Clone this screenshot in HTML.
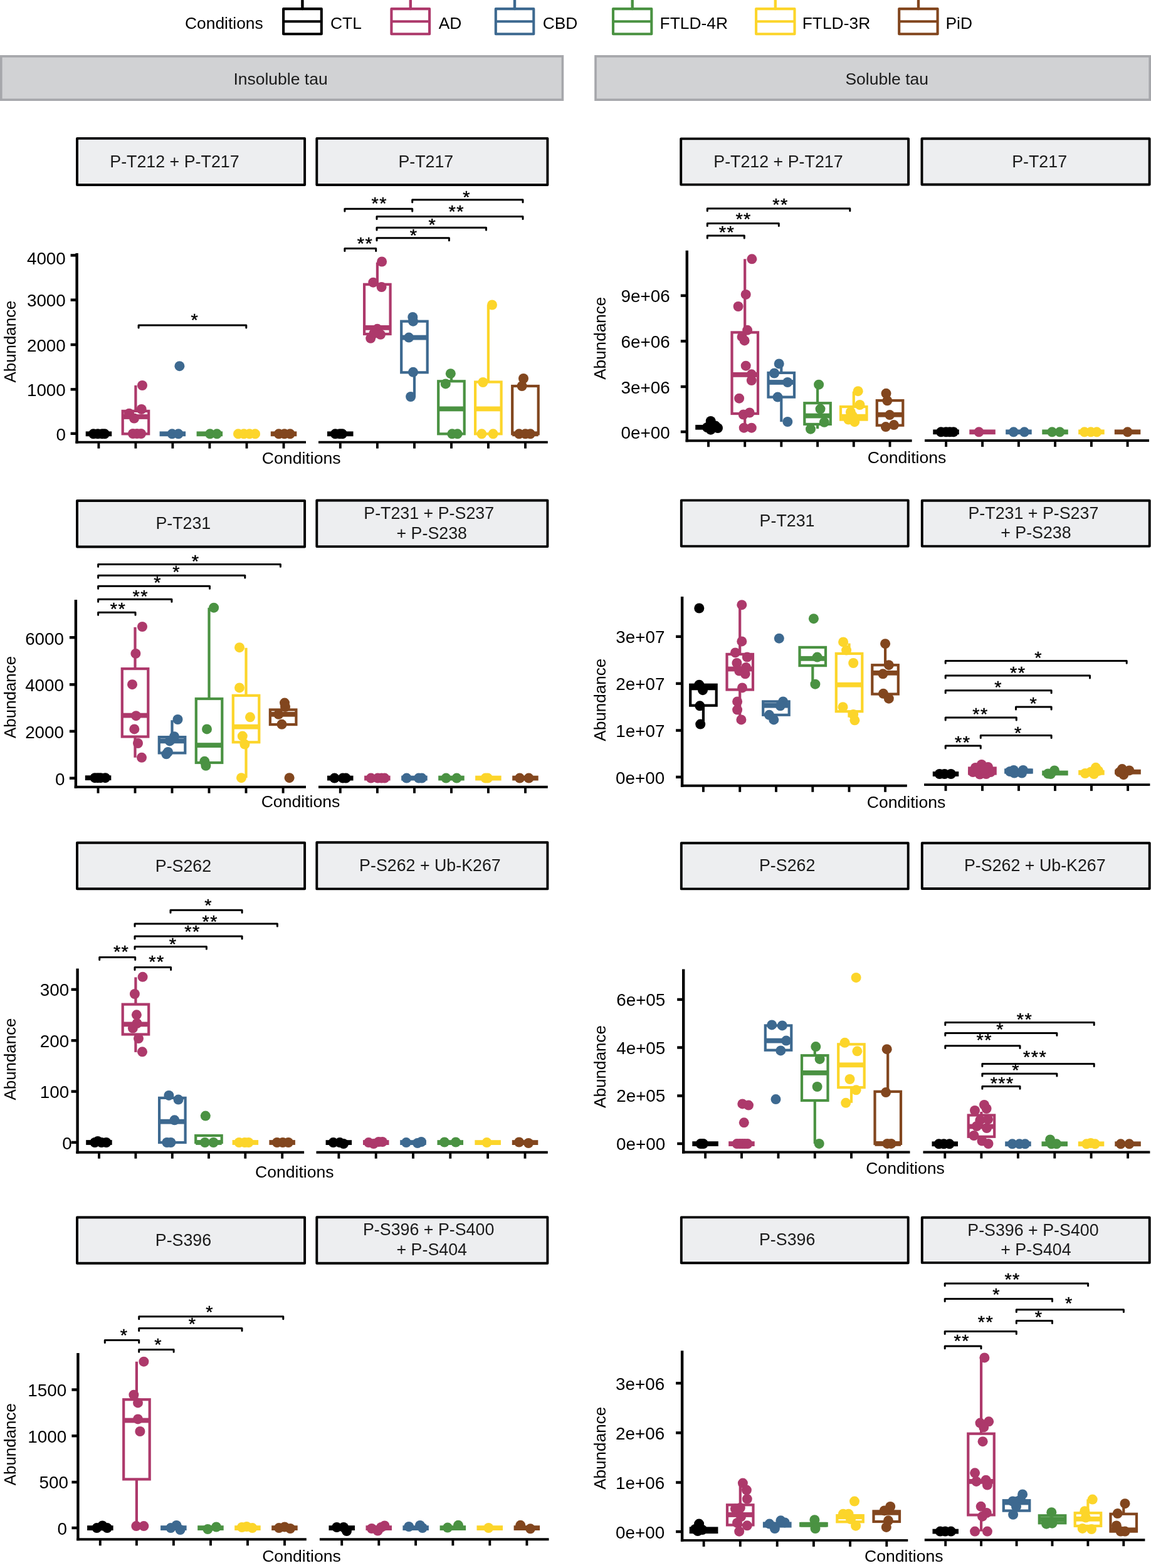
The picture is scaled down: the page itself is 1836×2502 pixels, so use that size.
<!DOCTYPE html>
<html><head><meta charset="utf-8"><title>Tau abundance boxplots</title>
<style>
html,body{margin:0;padding:0;background:#fff;}
body{width:1836px;height:2502px;overflow:hidden;}
svg{display:block;font-family:'Liberation Sans', Arial, Helvetica, sans-serif;}
</style></head>
<body>
<svg width="1836" height="2502" viewBox="0 0 1836 2502" stroke-linecap="butt">
<rect width="1836" height="2502" fill="#fff"/>
<g id="legend">
<text x="295.0" y="45.8" font-size="26.4" fill="#000">Conditions</text>
<rect x="452.1" y="14.1" width="60.7" height="40.2" fill="none" stroke="#000000" stroke-width="4.1" stroke-linejoin="round"/>
<line x1="452.1" y1="34.3" x2="512.8" y2="34.3" stroke="#000000" stroke-width="4.1"/>
<line x1="482.4" y1="1" x2="482.4" y2="14" stroke="#000000" stroke-width="4.4" stroke-linecap="round"/>
<text x="527" y="45.8" font-size="26.4" fill="#000">CTL</text>
<rect x="624.4" y="14.1" width="60.7" height="40.2" fill="none" stroke="#ad396b" stroke-width="4.1" stroke-linejoin="round"/>
<line x1="624.4" y1="34.3" x2="685.1" y2="34.3" stroke="#ad396b" stroke-width="4.1"/>
<line x1="654.8" y1="1" x2="654.8" y2="14" stroke="#ad396b" stroke-width="4.4" stroke-linecap="round"/>
<text x="699.7" y="45.8" font-size="26.4" fill="#000">AD</text>
<rect x="790.8" y="14.1" width="60.5" height="40.2" fill="none" stroke="#3d6990" stroke-width="4.1" stroke-linejoin="round"/>
<line x1="790.8" y1="34.3" x2="851.2" y2="34.3" stroke="#3d6990" stroke-width="4.1"/>
<line x1="821" y1="1" x2="821" y2="14" stroke="#3d6990" stroke-width="4.4" stroke-linecap="round"/>
<text x="865.7" y="45.8" font-size="26.4" fill="#000">CBD</text>
<rect x="978" y="14.1" width="61.3" height="40.2" fill="none" stroke="#4a9242" stroke-width="4.1" stroke-linejoin="round"/>
<line x1="978" y1="34.3" x2="1039.3" y2="34.3" stroke="#4a9242" stroke-width="4.1"/>
<line x1="1008.7" y1="1" x2="1008.7" y2="14" stroke="#4a9242" stroke-width="4.4" stroke-linecap="round"/>
<text x="1052.6" y="45.8" font-size="26.4" fill="#000">FTLD-4R</text>
<rect x="1206.1" y="14.1" width="61.4" height="40.2" fill="none" stroke="#fcd52a" stroke-width="4.1" stroke-linejoin="round"/>
<line x1="1206.1" y1="34.3" x2="1267.5" y2="34.3" stroke="#fcd52a" stroke-width="4.1"/>
<line x1="1236.8" y1="1" x2="1236.8" y2="14" stroke="#fcd52a" stroke-width="4.4" stroke-linecap="round"/>
<text x="1279.7" y="45.8" font-size="26.4" fill="#000">FTLD-3R</text>
<rect x="1434.2" y="14.1" width="61.4" height="40.2" fill="none" stroke="#82461e" stroke-width="4.1" stroke-linejoin="round"/>
<line x1="1434.2" y1="34.3" x2="1495.7" y2="34.3" stroke="#82461e" stroke-width="4.1"/>
<line x1="1465" y1="1" x2="1465" y2="14" stroke="#82461e" stroke-width="4.4" stroke-linecap="round"/>
<text x="1508.5" y="45.8" font-size="26.4" fill="#000">PiD</text>
</g>
<rect x="1.8" y="89.8" width="895.6" height="69.4" fill="#d1d2d4" stroke="#a6a7ab" stroke-width="3.6"/>
<text x="372.4" y="134.7" font-size="26.5" fill="#1a1a1a">Insoluble tau</text>
<rect x="950" y="89.8" width="884.2" height="69.4" fill="#d1d2d4" stroke="#a6a7ab" stroke-width="3.6"/>
<text x="1348.4" y="134.7" font-size="26.5" fill="#1a1a1a">Soluble tau</text>
<g id="L1A">
<rect x="123" y="220.9" width="363.1" height="74.1" fill="#edeef0" stroke="#000" stroke-width="3.9" stroke-linejoin="round"/>
<text x="175.3" y="266.6" font-size="26.8" fill="#1a1a1a">P-T212 + P-T217</text>
<line x1="120.4" y1="705.6" x2="488" y2="705.6" stroke="#000" stroke-width="3.9"/>
<line x1="157.4" y1="705.6" x2="157.4" y2="715.6" stroke="#000" stroke-width="3.9"/>
<line x1="216.4" y1="705.6" x2="216.4" y2="715.6" stroke="#000" stroke-width="3.9"/>
<line x1="275.4" y1="705.6" x2="275.4" y2="715.6" stroke="#000" stroke-width="3.9"/>
<line x1="334.4" y1="705.6" x2="334.4" y2="715.6" stroke="#000" stroke-width="3.9"/>
<line x1="393.5" y1="705.6" x2="393.5" y2="715.6" stroke="#000" stroke-width="3.9"/>
<line x1="452.5" y1="705.6" x2="452.5" y2="715.6" stroke="#000" stroke-width="3.9"/>
<line x1="122.6" y1="403.9" x2="122.6" y2="707.6" stroke="#000" stroke-width="4.4"/>
<line x1="112.6" y1="407.4" x2="122.6" y2="407.4" stroke="#000" stroke-width="4.4"/>
<text x="104.8" y="421.8" font-size="27.8" fill="#000" text-anchor="end">4000</text>
<line x1="112.6" y1="478.6" x2="122.6" y2="478.6" stroke="#000" stroke-width="4.4"/>
<text x="104.8" y="489.3" font-size="27.8" fill="#000" text-anchor="end">3000</text>
<line x1="112.6" y1="550" x2="122.6" y2="550" stroke="#000" stroke-width="4.4"/>
<text x="104.8" y="560.5" font-size="27.8" fill="#000" text-anchor="end">2000</text>
<line x1="112.6" y1="621.3" x2="122.6" y2="621.3" stroke="#000" stroke-width="4.4"/>
<text x="104.8" y="631.5" font-size="27.8" fill="#000" text-anchor="end">1000</text>
<line x1="112.6" y1="691.8" x2="122.6" y2="691.8" stroke="#000" stroke-width="4.4"/>
<text x="104.9" y="702.8" font-size="27.8" fill="#000" text-anchor="end">0</text>
<rect x="136.7" y="688.4" width="41.5" height="7.8" fill="#000000"/>
<line x1="216.4" y1="614.9" x2="216.4" y2="655.9" stroke="#ad396b" stroke-width="4.2"/>
<rect x="195.7" y="655.9" width="41.5" height="36.4" fill="#fff" stroke="#ad396b" stroke-width="4.2"/>
<rect x="195.7" y="661.1" width="41.5" height="7.8" fill="#ad396b"/>
<rect x="254.6" y="688.4" width="41.5" height="7.8" fill="#3d6990"/>
<rect x="313.6" y="688.4" width="41.5" height="7.8" fill="#4a9242"/>
<rect x="372.8" y="688.4" width="41.5" height="7.8" fill="#fcd52a"/>
<rect x="431.8" y="688.4" width="41.5" height="7.8" fill="#82461e"/>
<circle cx="149" cy="692.3" r="8.0" fill="#000000"/>
<circle cx="156" cy="692.3" r="8.0" fill="#000000"/>
<circle cx="163" cy="692.3" r="8.0" fill="#000000"/>
<circle cx="167" cy="692.3" r="8.0" fill="#000000"/>
<circle cx="227" cy="615" r="8.0" fill="#ad396b"/>
<circle cx="225.7" cy="653" r="8.0" fill="#ad396b"/>
<circle cx="206" cy="659.7" r="8.0" fill="#ad396b"/>
<circle cx="214" cy="667.5" r="8.0" fill="#ad396b"/>
<circle cx="212" cy="692" r="8.0" fill="#ad396b"/>
<circle cx="218.5" cy="692" r="8.0" fill="#ad396b"/>
<circle cx="225" cy="692" r="8.0" fill="#ad396b"/>
<circle cx="274.5" cy="692.3" r="8.0" fill="#3d6990"/>
<circle cx="284.6" cy="692.3" r="8.0" fill="#3d6990"/>
<circle cx="286.4" cy="584.2" r="8.0" fill="#3d6990"/>
<circle cx="335" cy="692.3" r="8.0" fill="#4a9242"/>
<circle cx="346" cy="692.3" r="8.0" fill="#4a9242"/>
<circle cx="380" cy="692.3" r="8.0" fill="#fcd52a"/>
<circle cx="389" cy="692.3" r="8.0" fill="#fcd52a"/>
<circle cx="398" cy="692.3" r="8.0" fill="#fcd52a"/>
<circle cx="407" cy="692.3" r="8.0" fill="#fcd52a"/>
<circle cx="444.7" cy="692.3" r="8.0" fill="#82461e"/>
<circle cx="453.7" cy="692.3" r="8.0" fill="#82461e"/>
<circle cx="462.7" cy="692.3" r="8.0" fill="#82461e"/>
<path d="M221.1 522.9V519H392.8V522.9" fill="none" stroke="#000" stroke-width="3.0" stroke-linecap="round" stroke-linejoin="round"/>
<text transform="translate(310.8 519.8) scale(1 0.95)" font-size="29" letter-spacing="1.42" fill="#000" stroke="#000" stroke-width="0.45" text-anchor="middle">*</text>
</g>
<g id="L1B">
<rect x="505.3" y="220.9" width="368.1" height="74.1" fill="#edeef0" stroke="#000" stroke-width="3.9" stroke-linejoin="round"/>
<text x="635.4" y="266.6" font-size="26.8" fill="#1a1a1a">P-T217</text>
<line x1="508" y1="705.6" x2="873.8" y2="705.6" stroke="#000" stroke-width="3.9"/>
<line x1="542.8" y1="705.6" x2="542.8" y2="715.6" stroke="#000" stroke-width="3.9"/>
<line x1="601.9" y1="705.6" x2="601.9" y2="715.6" stroke="#000" stroke-width="3.9"/>
<line x1="661" y1="705.6" x2="661" y2="715.6" stroke="#000" stroke-width="3.9"/>
<line x1="720" y1="705.6" x2="720" y2="715.6" stroke="#000" stroke-width="3.9"/>
<line x1="778.9" y1="705.6" x2="778.9" y2="715.6" stroke="#000" stroke-width="3.9"/>
<line x1="838" y1="705.6" x2="838" y2="715.6" stroke="#000" stroke-width="3.9"/>
<rect x="522" y="688.4" width="41.5" height="7.8" fill="#000000"/>
<line x1="601.9" y1="418.7" x2="601.9" y2="453.8" stroke="#ad396b" stroke-width="4.2"/>
<rect x="581.1" y="453.8" width="41.5" height="79.2" fill="#fff" stroke="#ad396b" stroke-width="4.2"/>
<rect x="581.1" y="519" width="41.5" height="7.8" fill="#ad396b"/>
<line x1="661" y1="594.3" x2="661" y2="633" stroke="#3d6990" stroke-width="4.2"/>
<rect x="640.2" y="512.7" width="41.5" height="81.6" fill="#fff" stroke="#3d6990" stroke-width="4.2"/>
<rect x="640.2" y="534.7" width="41.5" height="7.8" fill="#3d6990"/>
<line x1="720" y1="598" x2="720" y2="608.3" stroke="#4a9242" stroke-width="4.2"/>
<rect x="699.2" y="608.3" width="41.5" height="84" fill="#fff" stroke="#4a9242" stroke-width="4.2"/>
<rect x="699.2" y="648.5" width="41.5" height="7.8" fill="#4a9242"/>
<line x1="778.9" y1="486.5" x2="778.9" y2="609.5" stroke="#fcd52a" stroke-width="4.2"/>
<rect x="758.1" y="609.5" width="41.5" height="82.8" fill="#fff" stroke="#fcd52a" stroke-width="4.2"/>
<rect x="758.1" y="648.5" width="41.5" height="7.8" fill="#fcd52a"/>
<rect x="817.2" y="616" width="41.5" height="76.3" fill="#fff" stroke="#82461e" stroke-width="4.2"/>
<rect x="817.2" y="688.4" width="41.5" height="7.8" fill="#82461e"/>
<circle cx="534.8" cy="692.3" r="8.0" fill="#000000"/>
<circle cx="542" cy="692.3" r="8.0" fill="#000000"/>
<circle cx="546" cy="692.3" r="8.0" fill="#000000"/>
<circle cx="609.1" cy="417.5" r="8.0" fill="#ad396b"/>
<circle cx="595.3" cy="450.7" r="8.0" fill="#ad396b"/>
<circle cx="608.6" cy="458" r="8.0" fill="#ad396b"/>
<circle cx="601.9" cy="524.8" r="8.0" fill="#ad396b"/>
<circle cx="591.2" cy="539.8" r="8.0" fill="#ad396b"/>
<circle cx="607" cy="533.8" r="8.0" fill="#ad396b"/>
<circle cx="596.5" cy="532" r="8.0" fill="#ad396b"/>
<circle cx="658.3" cy="505.9" r="8.0" fill="#3d6990"/>
<circle cx="659" cy="512.7" r="8.0" fill="#3d6990"/>
<circle cx="652.2" cy="538.6" r="8.0" fill="#3d6990"/>
<circle cx="659" cy="593.8" r="8.0" fill="#3d6990"/>
<circle cx="655.1" cy="633" r="8.0" fill="#3d6990"/>
<circle cx="718.8" cy="596.2" r="8.0" fill="#4a9242"/>
<circle cx="710.8" cy="612.4" r="8.0" fill="#4a9242"/>
<circle cx="721.2" cy="692.3" r="8.0" fill="#4a9242"/>
<circle cx="729.7" cy="692.3" r="8.0" fill="#4a9242"/>
<circle cx="785" cy="486.5" r="8.0" fill="#fcd52a"/>
<circle cx="770.4" cy="610" r="8.0" fill="#fcd52a"/>
<circle cx="768.4" cy="692.3" r="8.0" fill="#fcd52a"/>
<circle cx="786.6" cy="692.3" r="8.0" fill="#fcd52a"/>
<circle cx="835" cy="604" r="8.0" fill="#82461e"/>
<circle cx="832.6" cy="616" r="8.0" fill="#82461e"/>
<circle cx="828" cy="692.3" r="8.0" fill="#82461e"/>
<circle cx="838" cy="692.3" r="8.0" fill="#82461e"/>
<circle cx="846" cy="692.3" r="8.0" fill="#82461e"/>
<path d="M657.7 322.7V318.8H834V322.7" fill="none" stroke="#000" stroke-width="3.0" stroke-linecap="round" stroke-linejoin="round"/>
<text transform="translate(744.5 323.8) scale(1 0.95)" font-size="29" letter-spacing="1.42" fill="#000" stroke="#000" stroke-width="0.45" text-anchor="middle">*</text>
<path d="M549.9 337.1V333.2H657.7V337.1" fill="none" stroke="#000" stroke-width="3.0" stroke-linecap="round" stroke-linejoin="round"/>
<text transform="translate(605.3 334.1) scale(1 0.95)" font-size="29" letter-spacing="1.42" fill="#000" stroke="#000" stroke-width="0.45" text-anchor="middle">**</text>
<path d="M601 349.5V345.6H834V349.5" fill="none" stroke="#000" stroke-width="3.0" stroke-linecap="round" stroke-linejoin="round"/>
<text transform="translate(728.2 347.3) scale(1 0.95)" font-size="29" letter-spacing="1.42" fill="#000" stroke="#000" stroke-width="0.45" text-anchor="middle">**</text>
<path d="M601 367.1V363.2H775.5V367.1" fill="none" stroke="#000" stroke-width="3.0" stroke-linecap="round" stroke-linejoin="round"/>
<text transform="translate(689.9 367.9) scale(1 0.95)" font-size="29" letter-spacing="1.42" fill="#000" stroke="#000" stroke-width="0.45" text-anchor="middle">*</text>
<path d="M601 383.7V379.8H716.4V383.7" fill="none" stroke="#000" stroke-width="3.0" stroke-linecap="round" stroke-linejoin="round"/>
<text transform="translate(660.2 385) scale(1 0.95)" font-size="29" letter-spacing="1.42" fill="#000" stroke="#000" stroke-width="0.45" text-anchor="middle">*</text>
<path d="M549.9 400.5V396.6H599.7V400.5" fill="none" stroke="#000" stroke-width="3.0" stroke-linecap="round" stroke-linejoin="round"/>
<text transform="translate(582.5 397.6) scale(1 0.95)" font-size="29" letter-spacing="1.42" fill="#000" stroke="#000" stroke-width="0.45" text-anchor="middle">**</text>
</g>
<g id="L2A">
<rect x="123" y="799" width="363.1" height="73.5" fill="#edeef0" stroke="#000" stroke-width="3.9" stroke-linejoin="round"/>
<text x="248.4" y="844.2" font-size="26.8" fill="#1a1a1a">P-T231</text>
<line x1="118.7" y1="1255.7" x2="488" y2="1255.7" stroke="#000" stroke-width="3.9"/>
<line x1="156.5" y1="1255.7" x2="156.5" y2="1265.7" stroke="#000" stroke-width="3.9"/>
<line x1="215.5" y1="1255.7" x2="215.5" y2="1265.7" stroke="#000" stroke-width="3.9"/>
<line x1="274.5" y1="1255.7" x2="274.5" y2="1265.7" stroke="#000" stroke-width="3.9"/>
<line x1="333.5" y1="1255.7" x2="333.5" y2="1265.7" stroke="#000" stroke-width="3.9"/>
<line x1="392.5" y1="1255.7" x2="392.5" y2="1265.7" stroke="#000" stroke-width="3.9"/>
<line x1="451.6" y1="1255.7" x2="451.6" y2="1265.7" stroke="#000" stroke-width="3.9"/>
<line x1="120.9" y1="956.9" x2="120.9" y2="1257.7" stroke="#000" stroke-width="4.4"/>
<line x1="110.9" y1="1017.2" x2="120.9" y2="1017.2" stroke="#000" stroke-width="4.4"/>
<text x="102" y="1028.5" font-size="27.8" fill="#000" text-anchor="end">6000</text>
<line x1="110.9" y1="1092.3" x2="120.9" y2="1092.3" stroke="#000" stroke-width="4.4"/>
<text x="102" y="1102.9" font-size="27.8" fill="#000" text-anchor="end">4000</text>
<line x1="110.9" y1="1166.9" x2="120.9" y2="1166.9" stroke="#000" stroke-width="4.4"/>
<text x="102" y="1177.5" font-size="27.8" fill="#000" text-anchor="end">2000</text>
<line x1="110.9" y1="1241.7" x2="120.9" y2="1241.7" stroke="#000" stroke-width="4.4"/>
<text x="103.4" y="1253" font-size="27.8" fill="#000" text-anchor="end">0</text>
<rect x="135.8" y="1237.3" width="41.5" height="7.8" fill="#000000"/>
<line x1="215.5" y1="1000.8" x2="215.5" y2="1067.1" stroke="#ad396b" stroke-width="4.2"/>
<line x1="215.5" y1="1175.5" x2="215.5" y2="1208.8" stroke="#ad396b" stroke-width="4.2"/>
<rect x="194.8" y="1067.1" width="41.5" height="108.4" fill="#fff" stroke="#ad396b" stroke-width="4.2"/>
<rect x="194.8" y="1137.7" width="41.5" height="7.8" fill="#ad396b"/>
<line x1="274.5" y1="1149.2" x2="274.5" y2="1176.1" stroke="#3d6990" stroke-width="4.2"/>
<rect x="253.8" y="1176.1" width="41.5" height="25.4" fill="#fff" stroke="#3d6990" stroke-width="4.2"/>
<rect x="253.8" y="1178.5" width="41.5" height="7.8" fill="#3d6990"/>
<line x1="333.5" y1="969.7" x2="333.5" y2="1115" stroke="#4a9242" stroke-width="4.2"/>
<rect x="312.8" y="1115" width="41.5" height="102" fill="#fff" stroke="#4a9242" stroke-width="4.2"/>
<rect x="312.8" y="1185.2" width="41.5" height="7.8" fill="#4a9242"/>
<line x1="392.5" y1="1033.8" x2="392.5" y2="1109.8" stroke="#fcd52a" stroke-width="4.2"/>
<line x1="392.5" y1="1184.3" x2="392.5" y2="1241.2" stroke="#fcd52a" stroke-width="4.2"/>
<rect x="371.8" y="1109.8" width="41.5" height="74.5" fill="#fff" stroke="#fcd52a" stroke-width="4.2"/>
<rect x="371.8" y="1155.8" width="41.5" height="7.8" fill="#fcd52a"/>
<rect x="430.9" y="1132.5" width="41.5" height="23.6" fill="#fff" stroke="#82461e" stroke-width="4.2"/>
<rect x="430.9" y="1135.9" width="41.5" height="7.8" fill="#82461e"/>
<circle cx="151.3" cy="1241.2" r="8.0" fill="#000000"/>
<circle cx="156" cy="1241.2" r="8.0" fill="#000000"/>
<circle cx="160.4" cy="1241.2" r="8.0" fill="#000000"/>
<circle cx="168" cy="1241.2" r="8.0" fill="#000000"/>
<circle cx="227" cy="1000" r="8.0" fill="#ad396b"/>
<circle cx="216.4" cy="1042.9" r="8.0" fill="#ad396b"/>
<circle cx="211" cy="1092.2" r="8.0" fill="#ad396b"/>
<circle cx="217" cy="1142.2" r="8.0" fill="#ad396b"/>
<circle cx="214.3" cy="1163.4" r="8.0" fill="#ad396b"/>
<circle cx="220" cy="1186" r="8.0" fill="#ad396b"/>
<circle cx="226" cy="1208.8" r="8.0" fill="#ad396b"/>
<circle cx="283.5" cy="1148" r="8.0" fill="#3d6990"/>
<circle cx="278" cy="1175.2" r="8.0" fill="#3d6990"/>
<circle cx="270.8" cy="1182.4" r="8.0" fill="#3d6990"/>
<circle cx="265.3" cy="1203.3" r="8.0" fill="#3d6990"/>
<circle cx="268" cy="1200" r="8.0" fill="#3d6990"/>
<circle cx="341.1" cy="969.7" r="8.0" fill="#4a9242"/>
<circle cx="330" cy="1163.4" r="8.0" fill="#4a9242"/>
<circle cx="326.3" cy="1214.8" r="8.0" fill="#4a9242"/>
<circle cx="328.4" cy="1221.8" r="8.0" fill="#4a9242"/>
<circle cx="382" cy="1033.2" r="8.0" fill="#fcd52a"/>
<circle cx="382" cy="1097.4" r="8.0" fill="#fcd52a"/>
<circle cx="399" cy="1144.3" r="8.0" fill="#fcd52a"/>
<circle cx="386.8" cy="1174.6" r="8.0" fill="#fcd52a"/>
<circle cx="390.4" cy="1187.6" r="8.0" fill="#fcd52a"/>
<circle cx="385" cy="1241.2" r="8.0" fill="#fcd52a"/>
<circle cx="454" cy="1121.6" r="8.0" fill="#82461e"/>
<circle cx="455" cy="1128" r="8.0" fill="#82461e"/>
<circle cx="444.3" cy="1139.8" r="8.0" fill="#82461e"/>
<circle cx="449.5" cy="1155.8" r="8.0" fill="#82461e"/>
<circle cx="461.6" cy="1241.2" r="8.0" fill="#82461e"/>
<path d="M156.6 904.3V900.4H447.4V904.3" fill="none" stroke="#000" stroke-width="3.0" stroke-linecap="round" stroke-linejoin="round"/>
<text transform="translate(312.1 905.1) scale(1 0.95)" font-size="29" letter-spacing="1.42" fill="#000" stroke="#000" stroke-width="0.45" text-anchor="middle">*</text>
<path d="M156.6 922.1V918.2H390.8V922.1" fill="none" stroke="#000" stroke-width="3.0" stroke-linecap="round" stroke-linejoin="round"/>
<text transform="translate(281.5 922.1) scale(1 0.95)" font-size="29" letter-spacing="1.42" fill="#000" stroke="#000" stroke-width="0.45" text-anchor="middle">*</text>
<path d="M156.6 939.2V935.3H334.5V939.2" fill="none" stroke="#000" stroke-width="3.0" stroke-linecap="round" stroke-linejoin="round"/>
<text transform="translate(251.7 939.4) scale(1 0.95)" font-size="29" letter-spacing="1.42" fill="#000" stroke="#000" stroke-width="0.45" text-anchor="middle">*</text>
<path d="M156.6 960.2V956.3H273.9V960.2" fill="none" stroke="#000" stroke-width="3.0" stroke-linecap="round" stroke-linejoin="round"/>
<text transform="translate(224.3 960.6) scale(1 0.95)" font-size="29" letter-spacing="1.42" fill="#000" stroke="#000" stroke-width="0.45" text-anchor="middle">**</text>
<path d="M156.6 981.2V977.3H216V981.2" fill="none" stroke="#000" stroke-width="3.0" stroke-linecap="round" stroke-linejoin="round"/>
<text transform="translate(188.4 981.3) scale(1 0.95)" font-size="29" letter-spacing="1.42" fill="#000" stroke="#000" stroke-width="0.45" text-anchor="middle">**</text>
</g>
<g id="L2B">
<rect x="505.3" y="798.5" width="368.1" height="73.6" fill="#edeef0" stroke="#000" stroke-width="3.9" stroke-linejoin="round"/>
<text x="580.3" y="827.8" font-size="26.8" fill="#1a1a1a">P-T231 + P-S237</text>
<text x="632.5" y="859.6" font-size="26.8" fill="#1a1a1a">+ P-S238</text>
<line x1="508" y1="1255.7" x2="873.8" y2="1255.7" stroke="#000" stroke-width="3.9"/>
<line x1="542.8" y1="1255.7" x2="542.8" y2="1265.7" stroke="#000" stroke-width="3.9"/>
<line x1="601.9" y1="1255.7" x2="601.9" y2="1265.7" stroke="#000" stroke-width="3.9"/>
<line x1="661" y1="1255.7" x2="661" y2="1265.7" stroke="#000" stroke-width="3.9"/>
<line x1="720" y1="1255.7" x2="720" y2="1265.7" stroke="#000" stroke-width="3.9"/>
<line x1="778.9" y1="1255.7" x2="778.9" y2="1265.7" stroke="#000" stroke-width="3.9"/>
<line x1="838" y1="1255.7" x2="838" y2="1265.7" stroke="#000" stroke-width="3.9"/>
<rect x="522" y="1237.7" width="41.5" height="7.8" fill="#000000"/>
<rect x="581.1" y="1237.7" width="41.5" height="7.8" fill="#ad396b"/>
<rect x="640.2" y="1237.7" width="41.5" height="7.8" fill="#3d6990"/>
<rect x="699.2" y="1237.7" width="41.5" height="7.8" fill="#4a9242"/>
<rect x="758.1" y="1237.7" width="41.5" height="7.8" fill="#fcd52a"/>
<rect x="817.2" y="1237.7" width="41.5" height="7.8" fill="#82461e"/>
<circle cx="533.6" cy="1241.6" r="8.0" fill="#000000"/>
<circle cx="546.9" cy="1241.6" r="8.0" fill="#000000"/>
<circle cx="551.7" cy="1241.6" r="8.0" fill="#000000"/>
<circle cx="591.7" cy="1241.6" r="8.0" fill="#ad396b"/>
<circle cx="602.6" cy="1241.6" r="8.0" fill="#ad396b"/>
<circle cx="608.6" cy="1241.6" r="8.0" fill="#ad396b"/>
<circle cx="613.5" cy="1241.6" r="8.0" fill="#ad396b"/>
<circle cx="648.6" cy="1241.6" r="8.0" fill="#3d6990"/>
<circle cx="668" cy="1241.6" r="8.0" fill="#3d6990"/>
<circle cx="672.8" cy="1241.6" r="8.0" fill="#3d6990"/>
<circle cx="711.5" cy="1241.6" r="8.0" fill="#4a9242"/>
<circle cx="728.5" cy="1241.6" r="8.0" fill="#4a9242"/>
<circle cx="774.5" cy="1241.6" r="8.0" fill="#fcd52a"/>
<circle cx="778" cy="1241.6" r="8.0" fill="#fcd52a"/>
<circle cx="829" cy="1241.6" r="8.0" fill="#82461e"/>
<circle cx="843.5" cy="1241.6" r="8.0" fill="#82461e"/>
</g>
<g id="L3A">
<rect x="123" y="1344.7" width="363.1" height="73.6" fill="#edeef0" stroke="#000" stroke-width="3.9" stroke-linejoin="round"/>
<text x="247.8" y="1390.5" font-size="26.8" fill="#1a1a1a">P-S262</text>
<line x1="121.4" y1="1838.7" x2="485.1" y2="1838.7" stroke="#000" stroke-width="3.9"/>
<line x1="158" y1="1838.7" x2="158" y2="1848.7" stroke="#000" stroke-width="3.9"/>
<line x1="216.4" y1="1838.7" x2="216.4" y2="1848.7" stroke="#000" stroke-width="3.9"/>
<line x1="274.8" y1="1838.7" x2="274.8" y2="1848.7" stroke="#000" stroke-width="3.9"/>
<line x1="333" y1="1838.7" x2="333" y2="1848.7" stroke="#000" stroke-width="3.9"/>
<line x1="391.3" y1="1838.7" x2="391.3" y2="1848.7" stroke="#000" stroke-width="3.9"/>
<line x1="450.2" y1="1838.7" x2="450.2" y2="1848.7" stroke="#000" stroke-width="3.9"/>
<line x1="123.6" y1="1545.4" x2="123.6" y2="1840.7" stroke="#000" stroke-width="4.4"/>
<line x1="113.6" y1="1578.9" x2="123.6" y2="1578.9" stroke="#000" stroke-width="4.4"/>
<text x="110.2" y="1589.4" font-size="27.8" fill="#000" text-anchor="end">300</text>
<line x1="113.6" y1="1660.3" x2="123.6" y2="1660.3" stroke="#000" stroke-width="4.4"/>
<text x="110.2" y="1670.7" font-size="27.8" fill="#000" text-anchor="end">200</text>
<line x1="113.6" y1="1741.6" x2="123.6" y2="1741.6" stroke="#000" stroke-width="4.4"/>
<text x="110.2" y="1752.2" font-size="27.8" fill="#000" text-anchor="end">100</text>
<line x1="113.6" y1="1822.9" x2="123.6" y2="1822.9" stroke="#000" stroke-width="4.4"/>
<text x="114.8" y="1833.5" font-size="27.8" fill="#000" text-anchor="end">0</text>
<rect x="137.2" y="1819.1" width="41.5" height="7.8" fill="#000000"/>
<line x1="216.4" y1="1559.4" x2="216.4" y2="1602.6" stroke="#ad396b" stroke-width="4.2"/>
<line x1="216.4" y1="1650.5" x2="216.4" y2="1678.9" stroke="#ad396b" stroke-width="4.2"/>
<rect x="195.7" y="1602.6" width="41.5" height="47.9" fill="#fff" stroke="#ad396b" stroke-width="4.2"/>
<rect x="195.7" y="1630.5" width="41.5" height="7.8" fill="#ad396b"/>
<rect x="254.1" y="1751.9" width="41.5" height="71.1" fill="#fff" stroke="#3d6990" stroke-width="4.2"/>
<rect x="254.1" y="1785.8" width="41.5" height="7.8" fill="#3d6990"/>
<rect x="312.2" y="1812" width="41.5" height="11" fill="#fff" stroke="#4a9242" stroke-width="4.2"/>
<rect x="312.2" y="1819.1" width="41.5" height="7.8" fill="#4a9242"/>
<rect x="370.6" y="1819.1" width="41.5" height="7.8" fill="#fcd52a"/>
<rect x="429.4" y="1819.1" width="41.5" height="7.8" fill="#82461e"/>
<circle cx="151.3" cy="1823" r="8.0" fill="#000000"/>
<circle cx="156" cy="1821" r="8.0" fill="#000000"/>
<circle cx="161.9" cy="1823" r="8.0" fill="#000000"/>
<circle cx="169.5" cy="1823" r="8.0" fill="#000000"/>
<circle cx="227.6" cy="1558.8" r="8.0" fill="#ad396b"/>
<circle cx="214.9" cy="1586" r="8.0" fill="#ad396b"/>
<circle cx="217.9" cy="1619.3" r="8.0" fill="#ad396b"/>
<circle cx="218.5" cy="1633" r="8.0" fill="#ad396b"/>
<circle cx="211.9" cy="1640.5" r="8.0" fill="#ad396b"/>
<circle cx="221" cy="1657.1" r="8.0" fill="#ad396b"/>
<circle cx="227" cy="1678.3" r="8.0" fill="#ad396b"/>
<circle cx="269.4" cy="1747.9" r="8.0" fill="#3d6990"/>
<circle cx="284.5" cy="1754.6" r="8.0" fill="#3d6990"/>
<circle cx="278.4" cy="1787.3" r="8.0" fill="#3d6990"/>
<circle cx="266.3" cy="1823" r="8.0" fill="#3d6990"/>
<circle cx="272.4" cy="1823" r="8.0" fill="#3d6990"/>
<circle cx="327.8" cy="1780.6" r="8.0" fill="#4a9242"/>
<circle cx="326.9" cy="1823" r="8.0" fill="#4a9242"/>
<circle cx="340.5" cy="1823" r="8.0" fill="#4a9242"/>
<circle cx="381.4" cy="1823" r="8.0" fill="#fcd52a"/>
<circle cx="390.4" cy="1823" r="8.0" fill="#fcd52a"/>
<circle cx="396.5" cy="1823" r="8.0" fill="#fcd52a"/>
<circle cx="441.9" cy="1823" r="8.0" fill="#82461e"/>
<circle cx="451" cy="1823" r="8.0" fill="#82461e"/>
<circle cx="460" cy="1823" r="8.0" fill="#82461e"/>
<path d="M272 1456.2V1452.3H386.1V1456.2" fill="none" stroke="#000" stroke-width="3.0" stroke-linecap="round" stroke-linejoin="round"/>
<text transform="translate(332.5 1453.9) scale(1 0.95)" font-size="29" letter-spacing="1.42" fill="#000" stroke="#000" stroke-width="0.45" text-anchor="middle">*</text>
<path d="M215 1477.9V1474H442.4V1477.9" fill="none" stroke="#000" stroke-width="3.0" stroke-linecap="round" stroke-linejoin="round"/>
<text transform="translate(335.2 1479.5) scale(1 0.95)" font-size="29" letter-spacing="1.42" fill="#000" stroke="#000" stroke-width="0.45" text-anchor="middle">**</text>
<path d="M215 1497.9V1494H386.1V1497.9" fill="none" stroke="#000" stroke-width="3.0" stroke-linecap="round" stroke-linejoin="round"/>
<text transform="translate(306.9 1495.9) scale(1 0.95)" font-size="29" letter-spacing="1.42" fill="#000" stroke="#000" stroke-width="0.45" text-anchor="middle">**</text>
<path d="M215 1514.3V1510.4H329.4V1514.3" fill="none" stroke="#000" stroke-width="3.0" stroke-linecap="round" stroke-linejoin="round"/>
<text transform="translate(276 1515.9) scale(1 0.95)" font-size="29" letter-spacing="1.42" fill="#000" stroke="#000" stroke-width="0.45" text-anchor="middle">*</text>
<path d="M158.7 1531.5V1527.6H215.7V1531.5" fill="none" stroke="#000" stroke-width="3.0" stroke-linecap="round" stroke-linejoin="round"/>
<text transform="translate(193.6 1527.9) scale(1 0.95)" font-size="29" letter-spacing="1.42" fill="#000" stroke="#000" stroke-width="0.45" text-anchor="middle">**</text>
<path d="M215 1547.5V1543.6H272.6V1547.5" fill="none" stroke="#000" stroke-width="3.0" stroke-linecap="round" stroke-linejoin="round"/>
<text transform="translate(250 1544.2) scale(1 0.95)" font-size="29" letter-spacing="1.42" fill="#000" stroke="#000" stroke-width="0.45" text-anchor="middle">**</text>
</g>
<g id="L3B">
<rect x="505.3" y="1344.2" width="368.1" height="74.2" fill="#edeef0" stroke="#000" stroke-width="3.9" stroke-linejoin="round"/>
<text x="573.1" y="1390.3" font-size="26.8" fill="#1a1a1a">P-S262 + Ub-K267</text>
<line x1="504.5" y1="1838.7" x2="873.8" y2="1838.7" stroke="#000" stroke-width="3.9"/>
<line x1="540.4" y1="1838.7" x2="540.4" y2="1848.7" stroke="#000" stroke-width="3.9"/>
<line x1="599.7" y1="1838.7" x2="599.7" y2="1848.7" stroke="#000" stroke-width="3.9"/>
<line x1="659" y1="1838.7" x2="659" y2="1848.7" stroke="#000" stroke-width="3.9"/>
<line x1="718.3" y1="1838.7" x2="718.3" y2="1848.7" stroke="#000" stroke-width="3.9"/>
<line x1="778.1" y1="1838.7" x2="778.1" y2="1848.7" stroke="#000" stroke-width="3.9"/>
<line x1="837.5" y1="1838.7" x2="837.5" y2="1848.7" stroke="#000" stroke-width="3.9"/>
<rect x="519.6" y="1819.2" width="41.5" height="7.8" fill="#000000"/>
<rect x="579" y="1819.2" width="41.5" height="7.8" fill="#ad396b"/>
<rect x="638.2" y="1819.2" width="41.5" height="7.8" fill="#3d6990"/>
<rect x="697.5" y="1819.2" width="41.5" height="7.8" fill="#4a9242"/>
<rect x="757.4" y="1819.2" width="41.5" height="7.8" fill="#fcd52a"/>
<rect x="816.8" y="1819.2" width="41.5" height="7.8" fill="#82461e"/>
<circle cx="531.6" cy="1823.1" r="8.0" fill="#000000"/>
<circle cx="542" cy="1823.1" r="8.0" fill="#000000"/>
<circle cx="548" cy="1825" r="8.0" fill="#000000"/>
<circle cx="588" cy="1823.1" r="8.0" fill="#ad396b"/>
<circle cx="596" cy="1825" r="8.0" fill="#ad396b"/>
<circle cx="604" cy="1822" r="8.0" fill="#ad396b"/>
<circle cx="610" cy="1822" r="8.0" fill="#ad396b"/>
<circle cx="648" cy="1823.1" r="8.0" fill="#3d6990"/>
<circle cx="666" cy="1824" r="8.0" fill="#3d6990"/>
<circle cx="672" cy="1822" r="8.0" fill="#3d6990"/>
<circle cx="709" cy="1822.5" r="8.0" fill="#4a9242"/>
<circle cx="727" cy="1822.5" r="8.0" fill="#4a9242"/>
<circle cx="776.5" cy="1823.1" r="8.0" fill="#fcd52a"/>
<circle cx="828" cy="1822.5" r="8.0" fill="#82461e"/>
<circle cx="843" cy="1824" r="8.0" fill="#82461e"/>
</g>
<g id="L4A">
<rect x="123" y="1942.5" width="363.1" height="73.3" fill="#edeef0" stroke="#000" stroke-width="3.9" stroke-linejoin="round"/>
<text x="247.8" y="1987.5" font-size="26.8" fill="#1a1a1a">P-S396</text>
<line x1="122.2" y1="2456.3" x2="488.8" y2="2456.3" stroke="#000" stroke-width="3.9"/>
<line x1="159.8" y1="2456.3" x2="159.8" y2="2466.3" stroke="#000" stroke-width="3.9"/>
<line x1="217.9" y1="2456.3" x2="217.9" y2="2466.3" stroke="#000" stroke-width="3.9"/>
<line x1="276.9" y1="2456.3" x2="276.9" y2="2466.3" stroke="#000" stroke-width="3.9"/>
<line x1="336" y1="2456.3" x2="336" y2="2466.3" stroke="#000" stroke-width="3.9"/>
<line x1="395" y1="2456.3" x2="395" y2="2466.3" stroke="#000" stroke-width="3.9"/>
<line x1="454" y1="2456.3" x2="454" y2="2466.3" stroke="#000" stroke-width="3.9"/>
<line x1="124.4" y1="2159" x2="124.4" y2="2458.2" stroke="#000" stroke-width="4.4"/>
<line x1="114.4" y1="2217.5" x2="124.4" y2="2217.5" stroke="#000" stroke-width="4.4"/>
<text x="106.2" y="2228.2" font-size="27.8" fill="#000" text-anchor="end">1500</text>
<line x1="114.4" y1="2291.2" x2="124.4" y2="2291.2" stroke="#000" stroke-width="4.4"/>
<text x="106.2" y="2301.5" font-size="27.8" fill="#000" text-anchor="end">1000</text>
<line x1="114.4" y1="2365" x2="124.4" y2="2365" stroke="#000" stroke-width="4.4"/>
<text x="109" y="2375.3" font-size="27.8" fill="#000" text-anchor="end">500</text>
<line x1="114.4" y1="2438" x2="124.4" y2="2438" stroke="#000" stroke-width="4.4"/>
<text x="106.9" y="2448.6" font-size="27.8" fill="#000" text-anchor="end">0</text>
<rect x="139.1" y="2434.2" width="41.5" height="7.8" fill="#000000"/>
<line x1="217.9" y1="2172.7" x2="217.9" y2="2233.2" stroke="#ad396b" stroke-width="4.2"/>
<line x1="217.9" y1="2360.4" x2="217.9" y2="2436" stroke="#ad396b" stroke-width="4.2"/>
<rect x="197.2" y="2233.2" width="41.5" height="127.2" fill="#fff" stroke="#ad396b" stroke-width="4.2"/>
<rect x="197.2" y="2262.6" width="41.5" height="7.8" fill="#ad396b"/>
<rect x="256.1" y="2434.2" width="41.5" height="7.8" fill="#3d6990"/>
<rect x="315.2" y="2434.2" width="41.5" height="7.8" fill="#4a9242"/>
<rect x="374.2" y="2434.2" width="41.5" height="7.8" fill="#fcd52a"/>
<rect x="433.2" y="2434.2" width="41.5" height="7.8" fill="#82461e"/>
<circle cx="154.4" cy="2438.1" r="8.0" fill="#000000"/>
<circle cx="163.4" cy="2434.5" r="8.0" fill="#000000"/>
<circle cx="171" cy="2438.1" r="8.0" fill="#000000"/>
<circle cx="229.4" cy="2172.7" r="8.0" fill="#ad396b"/>
<circle cx="213.4" cy="2225.7" r="8.0" fill="#ad396b"/>
<circle cx="220" cy="2238.4" r="8.0" fill="#ad396b"/>
<circle cx="220" cy="2264.4" r="8.0" fill="#ad396b"/>
<circle cx="223.4" cy="2284" r="8.0" fill="#ad396b"/>
<circle cx="217.3" cy="2435.1" r="8.0" fill="#ad396b"/>
<circle cx="229.4" cy="2435.1" r="8.0" fill="#ad396b"/>
<circle cx="272.4" cy="2438.1" r="8.0" fill="#3d6990"/>
<circle cx="281.5" cy="2434" r="8.0" fill="#3d6990"/>
<circle cx="287.5" cy="2441" r="8.0" fill="#3d6990"/>
<circle cx="331.4" cy="2440" r="8.0" fill="#4a9242"/>
<circle cx="345" cy="2436.5" r="8.0" fill="#4a9242"/>
<circle cx="385.9" cy="2437" r="8.0" fill="#fcd52a"/>
<circle cx="393.5" cy="2436" r="8.0" fill="#fcd52a"/>
<circle cx="402.5" cy="2438.1" r="8.0" fill="#fcd52a"/>
<circle cx="445" cy="2438.1" r="8.0" fill="#82461e"/>
<circle cx="454" cy="2436.5" r="8.0" fill="#82461e"/>
<circle cx="463" cy="2439" r="8.0" fill="#82461e"/>
<path d="M221.7 2104.7V2100.8H451.8V2104.7" fill="none" stroke="#000" stroke-width="3.0" stroke-linecap="round" stroke-linejoin="round"/>
<text transform="translate(334.7 2103) scale(1 0.95)" font-size="29" letter-spacing="1.42" fill="#000" stroke="#000" stroke-width="0.45" text-anchor="middle">*</text>
<path d="M221.7 2123.4V2119.5H386V2123.4" fill="none" stroke="#000" stroke-width="3.0" stroke-linecap="round" stroke-linejoin="round"/>
<text transform="translate(307.2 2122.1) scale(1 0.95)" font-size="29" letter-spacing="1.42" fill="#000" stroke="#000" stroke-width="0.45" text-anchor="middle">*</text>
<path d="M167.3 2142.5V2138.6H221.7V2142.5" fill="none" stroke="#000" stroke-width="3.0" stroke-linecap="round" stroke-linejoin="round"/>
<text transform="translate(198.1 2140.1) scale(1 0.95)" font-size="29" letter-spacing="1.42" fill="#000" stroke="#000" stroke-width="0.45" text-anchor="middle">*</text>
<path d="M221.7 2157.3V2153.4H277.1V2157.3" fill="none" stroke="#000" stroke-width="3.0" stroke-linecap="round" stroke-linejoin="round"/>
<text transform="translate(252.6 2155.1) scale(1 0.95)" font-size="29" letter-spacing="1.42" fill="#000" stroke="#000" stroke-width="0.45" text-anchor="middle">*</text>
</g>
<g id="L4B">
<rect x="505.3" y="1942.2" width="368.1" height="73.6" fill="#edeef0" stroke="#000" stroke-width="3.9" stroke-linejoin="round"/>
<text x="579" y="1971.2" font-size="26.8" fill="#1a1a1a">P-S396 + P-S400</text>
<text x="632.5" y="2003" font-size="26.8" fill="#1a1a1a">+ P-S404</text>
<line x1="509.9" y1="2456.3" x2="875.5" y2="2456.3" stroke="#000" stroke-width="3.9"/>
<line x1="545.2" y1="2456.3" x2="545.2" y2="2466.3" stroke="#000" stroke-width="3.9"/>
<line x1="604.3" y1="2456.3" x2="604.3" y2="2466.3" stroke="#000" stroke-width="3.9"/>
<line x1="663.1" y1="2456.3" x2="663.1" y2="2466.3" stroke="#000" stroke-width="3.9"/>
<line x1="722.4" y1="2456.3" x2="722.4" y2="2466.3" stroke="#000" stroke-width="3.9"/>
<line x1="781.3" y1="2456.3" x2="781.3" y2="2466.3" stroke="#000" stroke-width="3.9"/>
<line x1="840.4" y1="2456.3" x2="840.4" y2="2466.3" stroke="#000" stroke-width="3.9"/>
<rect x="524.5" y="2434.2" width="41.5" height="7.8" fill="#000000"/>
<rect x="583.5" y="2434.2" width="41.5" height="7.8" fill="#ad396b"/>
<rect x="642.4" y="2434.2" width="41.5" height="7.8" fill="#3d6990"/>
<rect x="701.6" y="2434.2" width="41.5" height="7.8" fill="#4a9242"/>
<rect x="760.5" y="2434.2" width="41.5" height="7.8" fill="#fcd52a"/>
<rect x="819.6" y="2434.2" width="41.5" height="7.8" fill="#82461e"/>
<circle cx="537.2" cy="2437" r="8.0" fill="#000000"/>
<circle cx="548.1" cy="2437" r="8.0" fill="#000000"/>
<circle cx="553" cy="2443" r="8.0" fill="#000000"/>
<circle cx="592.9" cy="2439" r="8.0" fill="#ad396b"/>
<circle cx="602.6" cy="2442.5" r="8.0" fill="#ad396b"/>
<circle cx="613.5" cy="2434.5" r="8.0" fill="#ad396b"/>
<circle cx="608" cy="2437" r="8.0" fill="#ad396b"/>
<circle cx="652.2" cy="2436" r="8.0" fill="#3d6990"/>
<circle cx="673.9" cy="2438" r="8.0" fill="#3d6990"/>
<circle cx="670" cy="2434" r="8.0" fill="#3d6990"/>
<circle cx="714" cy="2437.6" r="8.0" fill="#4a9242"/>
<circle cx="731" cy="2433.8" r="8.0" fill="#4a9242"/>
<circle cx="779.3" cy="2438" r="8.0" fill="#fcd52a"/>
<circle cx="830.2" cy="2433.8" r="8.0" fill="#82461e"/>
<circle cx="846" cy="2439.3" r="8.0" fill="#82461e"/>
</g>
<g id="R1A">
<rect x="1086.2" y="221.4" width="362.9" height="73.2" fill="#edeef0" stroke="#000" stroke-width="3.9" stroke-linejoin="round"/>
<text x="1138.3" y="266.8" font-size="26.8" fill="#1a1a1a">P-T212 + P-T217</text>
<line x1="1093.6" y1="703.2" x2="1454.6" y2="703.2" stroke="#000" stroke-width="3.9"/>
<line x1="1130" y1="703.2" x2="1130" y2="713.2" stroke="#000" stroke-width="3.9"/>
<line x1="1188.2" y1="703.2" x2="1188.2" y2="713.2" stroke="#000" stroke-width="3.9"/>
<line x1="1246.3" y1="703.2" x2="1246.3" y2="713.2" stroke="#000" stroke-width="3.9"/>
<line x1="1304.1" y1="703.2" x2="1304.1" y2="713.2" stroke="#000" stroke-width="3.9"/>
<line x1="1361.8" y1="703.2" x2="1361.8" y2="713.2" stroke="#000" stroke-width="3.9"/>
<line x1="1419.5" y1="703.2" x2="1419.5" y2="713.2" stroke="#000" stroke-width="3.9"/>
<line x1="1095.8" y1="399.8" x2="1095.8" y2="705.2" stroke="#000" stroke-width="4.4"/>
<line x1="1085.8" y1="471.7" x2="1095.8" y2="471.7" stroke="#000" stroke-width="4.4"/>
<text x="1068.7" y="482.4" font-size="27.8" fill="#000" text-anchor="end">9e+06</text>
<line x1="1085.8" y1="544.4" x2="1095.8" y2="544.4" stroke="#000" stroke-width="4.4"/>
<text x="1068.7" y="554.7" font-size="27.8" fill="#000" text-anchor="end">6e+06</text>
<line x1="1085.8" y1="617" x2="1095.8" y2="617" stroke="#000" stroke-width="4.4"/>
<text x="1068.7" y="627.7" font-size="27.8" fill="#000" text-anchor="end">3e+06</text>
<line x1="1085.8" y1="689" x2="1095.8" y2="689" stroke="#000" stroke-width="4.4"/>
<text x="1068.6" y="700" font-size="27.8" fill="#000" text-anchor="end">0e+00</text>
<rect x="1109.2" y="677.9" width="41.5" height="7.8" fill="#000000"/>
<line x1="1188.2" y1="413.3" x2="1188.2" y2="530.4" stroke="#ad396b" stroke-width="4.2"/>
<line x1="1188.2" y1="660" x2="1188.2" y2="682.7" stroke="#ad396b" stroke-width="4.2"/>
<rect x="1167.5" y="530.4" width="41.5" height="129.6" fill="#fff" stroke="#ad396b" stroke-width="4.2"/>
<rect x="1167.5" y="594" width="41.5" height="7.8" fill="#ad396b"/>
<line x1="1246.3" y1="580.4" x2="1246.3" y2="594.9" stroke="#3d6990" stroke-width="4.2"/>
<line x1="1246.3" y1="633.6" x2="1246.3" y2="673" stroke="#3d6990" stroke-width="4.2"/>
<rect x="1225.5" y="594.9" width="41.5" height="38.7" fill="#fff" stroke="#3d6990" stroke-width="4.2"/>
<rect x="1225.5" y="606.1" width="41.5" height="7.8" fill="#3d6990"/>
<line x1="1304.1" y1="613.7" x2="1304.1" y2="643.2" stroke="#4a9242" stroke-width="4.2"/>
<line x1="1304.1" y1="676.9" x2="1304.1" y2="684.1" stroke="#4a9242" stroke-width="4.2"/>
<rect x="1283.3" y="643.2" width="41.5" height="33.7" fill="#fff" stroke="#4a9242" stroke-width="4.2"/>
<rect x="1283.3" y="659.6" width="41.5" height="7.8" fill="#4a9242"/>
<line x1="1361.8" y1="624.8" x2="1361.8" y2="649" stroke="#fcd52a" stroke-width="4.2"/>
<rect x="1341" y="649" width="41.5" height="20.6" fill="#fff" stroke="#fcd52a" stroke-width="4.2"/>
<rect x="1341" y="660.8" width="41.5" height="7.8" fill="#fcd52a"/>
<rect x="1398.8" y="639.1" width="41.5" height="39.6" fill="#fff" stroke="#82461e" stroke-width="4.2"/>
<rect x="1398.8" y="657.8" width="41.5" height="7.8" fill="#82461e"/>
<circle cx="1133.7" cy="672" r="8.0" fill="#000000"/>
<circle cx="1141.3" cy="679.6" r="8.0" fill="#000000"/>
<circle cx="1133.7" cy="685.7" r="8.0" fill="#000000"/>
<circle cx="1128" cy="682" r="8.0" fill="#000000"/>
<circle cx="1145" cy="683" r="8.0" fill="#000000"/>
<circle cx="1199.4" cy="413.3" r="8.0" fill="#ad396b"/>
<circle cx="1189.7" cy="469.9" r="8.0" fill="#ad396b"/>
<circle cx="1177.6" cy="489" r="8.0" fill="#ad396b"/>
<circle cx="1192.1" cy="526.8" r="8.0" fill="#ad396b"/>
<circle cx="1183.6" cy="537.4" r="8.0" fill="#ad396b"/>
<circle cx="1187.6" cy="543.4" r="8.0" fill="#ad396b"/>
<circle cx="1189.7" cy="583.7" r="8.0" fill="#ad396b"/>
<circle cx="1198.8" cy="597.3" r="8.0" fill="#ad396b"/>
<circle cx="1198.8" cy="607" r="8.0" fill="#ad396b"/>
<circle cx="1179.1" cy="635.7" r="8.0" fill="#ad396b"/>
<circle cx="1185.8" cy="661.5" r="8.0" fill="#ad396b"/>
<circle cx="1195.7" cy="658.5" r="8.0" fill="#ad396b"/>
<circle cx="1186.7" cy="682.7" r="8.0" fill="#ad396b"/>
<circle cx="1198.8" cy="682.7" r="8.0" fill="#ad396b"/>
<circle cx="1242.7" cy="580.4" r="8.0" fill="#3d6990"/>
<circle cx="1235.1" cy="595.5" r="8.0" fill="#3d6990"/>
<circle cx="1256.3" cy="610" r="8.0" fill="#3d6990"/>
<circle cx="1240.5" cy="633.6" r="8.0" fill="#3d6990"/>
<circle cx="1256.3" cy="673" r="8.0" fill="#3d6990"/>
<circle cx="1306.1" cy="613.7" r="8.0" fill="#4a9242"/>
<circle cx="1308.5" cy="652.6" r="8.0" fill="#4a9242"/>
<circle cx="1314.8" cy="673.8" r="8.0" fill="#4a9242"/>
<circle cx="1293" cy="684.7" r="8.0" fill="#4a9242"/>
<circle cx="1368.7" cy="624.2" r="8.0" fill="#fcd52a"/>
<circle cx="1371.5" cy="646" r="8.0" fill="#fcd52a"/>
<circle cx="1356.9" cy="657.5" r="8.0" fill="#fcd52a"/>
<circle cx="1353.5" cy="669.6" r="8.0" fill="#fcd52a"/>
<circle cx="1363.2" cy="673.2" r="8.0" fill="#fcd52a"/>
<circle cx="1360" cy="664" r="8.0" fill="#fcd52a"/>
<circle cx="1413.5" cy="627.8" r="8.0" fill="#82461e"/>
<circle cx="1415.3" cy="639.3" r="8.0" fill="#82461e"/>
<circle cx="1419.2" cy="662.1" r="8.0" fill="#82461e"/>
<circle cx="1412.9" cy="681.1" r="8.0" fill="#82461e"/>
<circle cx="1425.9" cy="678.1" r="8.0" fill="#82461e"/>
<path d="M1128.3 336.6V332.7H1355.8V336.6" fill="none" stroke="#000" stroke-width="3.0" stroke-linecap="round" stroke-linejoin="round"/>
<text transform="translate(1244.9 335.9) scale(1 0.95)" font-size="29" letter-spacing="1.42" fill="#000" stroke="#000" stroke-width="0.45" text-anchor="middle">**</text>
<path d="M1128.3 360.4V356.5H1242.3V360.4" fill="none" stroke="#000" stroke-width="3.0" stroke-linecap="round" stroke-linejoin="round"/>
<text transform="translate(1186.1 359.4) scale(1 0.95)" font-size="29" letter-spacing="1.42" fill="#000" stroke="#000" stroke-width="0.45" text-anchor="middle">**</text>
<path d="M1128.3 380V376.1H1187.3V380" fill="none" stroke="#000" stroke-width="3.0" stroke-linecap="round" stroke-linejoin="round"/>
<text transform="translate(1159.4 379.8) scale(1 0.95)" font-size="29" letter-spacing="1.42" fill="#000" stroke="#000" stroke-width="0.45" text-anchor="middle">**</text>
</g>
<g id="R1B">
<rect x="1470.5" y="221.3" width="363.1" height="73.2" fill="#edeef0" stroke="#000" stroke-width="3.9" stroke-linejoin="round"/>
<text x="1614.2" y="266.7" font-size="26.8" fill="#1a1a1a">P-T217</text>
<line x1="1475" y1="703" x2="1833" y2="703" stroke="#000" stroke-width="3.9"/>
<line x1="1509.1" y1="703" x2="1509.1" y2="713" stroke="#000" stroke-width="3.9"/>
<line x1="1567.1" y1="703" x2="1567.1" y2="713" stroke="#000" stroke-width="3.9"/>
<line x1="1624.9" y1="703" x2="1624.9" y2="713" stroke="#000" stroke-width="3.9"/>
<line x1="1683.1" y1="703" x2="1683.1" y2="713" stroke="#000" stroke-width="3.9"/>
<line x1="1740.9" y1="703" x2="1740.9" y2="713" stroke="#000" stroke-width="3.9"/>
<line x1="1798.6" y1="703" x2="1798.6" y2="713" stroke="#000" stroke-width="3.9"/>
<rect x="1488.3" y="685.4" width="41.5" height="7.8" fill="#000000"/>
<rect x="1546.3" y="685.4" width="41.5" height="7.8" fill="#ad396b"/>
<rect x="1604.2" y="685.4" width="41.5" height="7.8" fill="#3d6990"/>
<rect x="1662.3" y="685.4" width="41.5" height="7.8" fill="#4a9242"/>
<rect x="1720.2" y="685.4" width="41.5" height="7.8" fill="#fcd52a"/>
<rect x="1777.8" y="685.4" width="41.5" height="7.8" fill="#82461e"/>
<circle cx="1501" cy="689.3" r="8.0" fill="#000000"/>
<circle cx="1509" cy="689.3" r="8.0" fill="#000000"/>
<circle cx="1515" cy="689.3" r="8.0" fill="#000000"/>
<circle cx="1521" cy="689.3" r="8.0" fill="#000000"/>
<circle cx="1561.5" cy="689.3" r="8.0" fill="#ad396b"/>
<circle cx="1616.8" cy="689.3" r="8.0" fill="#3d6990"/>
<circle cx="1634" cy="689.3" r="8.0" fill="#3d6990"/>
<circle cx="1678.2" cy="689.3" r="8.0" fill="#4a9242"/>
<circle cx="1690.5" cy="689.3" r="8.0" fill="#4a9242"/>
<circle cx="1729.8" cy="689.3" r="8.0" fill="#fcd52a"/>
<circle cx="1740" cy="689.3" r="8.0" fill="#fcd52a"/>
<circle cx="1749.5" cy="689.3" r="8.0" fill="#fcd52a"/>
<circle cx="1798.6" cy="689.3" r="8.0" fill="#82461e"/>
</g>
<g id="R2A">
<rect x="1086.8" y="798.4" width="361.9" height="73.2" fill="#edeef0" stroke="#000" stroke-width="3.9" stroke-linejoin="round"/>
<text x="1211.6" y="839.8" font-size="26.8" fill="#1a1a1a">P-T231</text>
<line x1="1085.9" y1="1253.8" x2="1446.8" y2="1253.8" stroke="#000" stroke-width="3.9"/>
<line x1="1121.9" y1="1253.8" x2="1121.9" y2="1263.8" stroke="#000" stroke-width="3.9"/>
<line x1="1180.2" y1="1253.8" x2="1180.2" y2="1263.8" stroke="#000" stroke-width="3.9"/>
<line x1="1238" y1="1253.8" x2="1238" y2="1263.8" stroke="#000" stroke-width="3.9"/>
<line x1="1296.3" y1="1253.8" x2="1296.3" y2="1263.8" stroke="#000" stroke-width="3.9"/>
<line x1="1354.5" y1="1253.8" x2="1354.5" y2="1263.8" stroke="#000" stroke-width="3.9"/>
<line x1="1412.1" y1="1253.8" x2="1412.1" y2="1263.8" stroke="#000" stroke-width="3.9"/>
<line x1="1088.1" y1="952" x2="1088.1" y2="1255.8" stroke="#000" stroke-width="4.4"/>
<line x1="1078.1" y1="1015.8" x2="1088.1" y2="1015.8" stroke="#000" stroke-width="4.4"/>
<text x="1060.4" y="1026.4" font-size="27.8" fill="#000" text-anchor="end">3e+07</text>
<line x1="1078.1" y1="1090.7" x2="1088.1" y2="1090.7" stroke="#000" stroke-width="4.4"/>
<text x="1060.4" y="1101.4" font-size="27.8" fill="#000" text-anchor="end">2e+07</text>
<line x1="1078.1" y1="1165.5" x2="1088.1" y2="1165.5" stroke="#000" stroke-width="4.4"/>
<text x="1060.4" y="1175.8" font-size="27.8" fill="#000" text-anchor="end">1e+07</text>
<line x1="1078.1" y1="1239.9" x2="1088.1" y2="1239.9" stroke="#000" stroke-width="4.4"/>
<text x="1060.1" y="1250.8" font-size="27.8" fill="#000" text-anchor="end">0e+00</text>
<line x1="1121.9" y1="1125.7" x2="1121.9" y2="1155.6" stroke="#000000" stroke-width="4.2"/>
<rect x="1101.2" y="1092.7" width="41.5" height="33" fill="#fff" stroke="#000000" stroke-width="4.2"/>
<rect x="1101.2" y="1093.5" width="41.5" height="7.8" fill="#000000"/>
<line x1="1180.2" y1="965.2" x2="1180.2" y2="1043.9" stroke="#ad396b" stroke-width="4.2"/>
<line x1="1180.2" y1="1100.5" x2="1180.2" y2="1149.3" stroke="#ad396b" stroke-width="4.2"/>
<rect x="1159.5" y="1043.9" width="41.5" height="56.6" fill="#fff" stroke="#ad396b" stroke-width="4.2"/>
<rect x="1159.5" y="1063.6" width="41.5" height="7.8" fill="#ad396b"/>
<rect x="1217.2" y="1119.4" width="41.5" height="21.4" fill="#fff" stroke="#3d6990" stroke-width="4.2"/>
<rect x="1217.2" y="1121.8" width="41.5" height="7.8" fill="#3d6990"/>
<line x1="1296.3" y1="1062.1" x2="1296.3" y2="1091.7" stroke="#4a9242" stroke-width="4.2"/>
<rect x="1275.5" y="1032.9" width="41.5" height="29.2" fill="#fff" stroke="#4a9242" stroke-width="4.2"/>
<rect x="1275.5" y="1046.9" width="41.5" height="7.8" fill="#4a9242"/>
<line x1="1354.5" y1="1026.6" x2="1354.5" y2="1042.9" stroke="#fcd52a" stroke-width="4.2"/>
<line x1="1354.5" y1="1135.2" x2="1354.5" y2="1144.6" stroke="#fcd52a" stroke-width="4.2"/>
<rect x="1333.8" y="1042.9" width="41.5" height="92.3" fill="#fff" stroke="#fcd52a" stroke-width="4.2"/>
<rect x="1333.8" y="1088.8" width="41.5" height="7.8" fill="#fcd52a"/>
<line x1="1412.1" y1="1027.2" x2="1412.1" y2="1061.2" stroke="#82461e" stroke-width="4.2"/>
<rect x="1391.3" y="1061.2" width="41.5" height="46.3" fill="#fff" stroke="#82461e" stroke-width="4.2"/>
<rect x="1391.3" y="1069.9" width="41.5" height="7.8" fill="#82461e"/>
<circle cx="1115.3" cy="970.5" r="8.0" fill="#000000"/>
<circle cx="1115.3" cy="1092.7" r="8.0" fill="#000000"/>
<circle cx="1121" cy="1101.2" r="8.0" fill="#000000"/>
<circle cx="1116.3" cy="1126.3" r="8.0" fill="#000000"/>
<circle cx="1117.2" cy="1155.6" r="8.0" fill="#000000"/>
<circle cx="1183.3" cy="965.2" r="8.0" fill="#ad396b"/>
<circle cx="1183.3" cy="1023.4" r="8.0" fill="#ad396b"/>
<circle cx="1172.9" cy="1041.4" r="8.0" fill="#ad396b"/>
<circle cx="1191.8" cy="1048.6" r="8.0" fill="#ad396b"/>
<circle cx="1175.4" cy="1058" r="8.0" fill="#ad396b"/>
<circle cx="1179.2" cy="1070.6" r="8.0" fill="#ad396b"/>
<circle cx="1188.7" cy="1075.3" r="8.0" fill="#ad396b"/>
<circle cx="1184" cy="1097.4" r="8.0" fill="#ad396b"/>
<circle cx="1176.1" cy="1119.4" r="8.0" fill="#ad396b"/>
<circle cx="1176.1" cy="1132.6" r="8.0" fill="#ad396b"/>
<circle cx="1182.4" cy="1148.4" r="8.0" fill="#ad396b"/>
<circle cx="1190" cy="1065" r="8.0" fill="#ad396b"/>
<circle cx="1242.8" cy="1018.7" r="8.0" fill="#3d6990"/>
<circle cx="1249.1" cy="1119.4" r="8.0" fill="#3d6990"/>
<circle cx="1244.7" cy="1126.3" r="8.0" fill="#3d6990"/>
<circle cx="1227" cy="1140.8" r="8.0" fill="#3d6990"/>
<circle cx="1234.3" cy="1148.4" r="8.0" fill="#3d6990"/>
<circle cx="1297.9" cy="987.2" r="8.0" fill="#4a9242"/>
<circle cx="1303.6" cy="1048.6" r="8.0" fill="#4a9242"/>
<circle cx="1300.4" cy="1091.7" r="8.0" fill="#4a9242"/>
<circle cx="1345.1" cy="1024.4" r="8.0" fill="#fcd52a"/>
<circle cx="1350.1" cy="1037.6" r="8.0" fill="#fcd52a"/>
<circle cx="1361.2" cy="1058" r="8.0" fill="#fcd52a"/>
<circle cx="1344.5" cy="1128.2" r="8.0" fill="#fcd52a"/>
<circle cx="1361.2" cy="1139.9" r="8.0" fill="#fcd52a"/>
<circle cx="1363.4" cy="1149.3" r="8.0" fill="#fcd52a"/>
<circle cx="1412.1" cy="1027.2" r="8.0" fill="#82461e"/>
<circle cx="1417.8" cy="1061.2" r="8.0" fill="#82461e"/>
<circle cx="1408.4" cy="1075.3" r="8.0" fill="#82461e"/>
<circle cx="1409" cy="1106.8" r="8.0" fill="#82461e"/>
<circle cx="1417.8" cy="1114.7" r="8.0" fill="#82461e"/>
</g>
<g id="R2B">
<rect x="1470.8" y="798.8" width="362.9" height="72.8" fill="#edeef0" stroke="#000" stroke-width="3.9" stroke-linejoin="round"/>
<text x="1544.5" y="827.9" font-size="26.8" fill="#1a1a1a">P-T231 + P-S237</text>
<text x="1596.2" y="859.1" font-size="26.8" fill="#1a1a1a">+ P-S238</text>
<line x1="1474.1" y1="1252.1" x2="1834.4" y2="1252.1" stroke="#000" stroke-width="3.9"/>
<line x1="1508.5" y1="1252.1" x2="1508.5" y2="1262.1" stroke="#000" stroke-width="3.9"/>
<line x1="1567" y1="1252.1" x2="1567" y2="1262.1" stroke="#000" stroke-width="3.9"/>
<line x1="1625" y1="1252.1" x2="1625" y2="1262.1" stroke="#000" stroke-width="3.9"/>
<line x1="1683" y1="1252.1" x2="1683" y2="1262.1" stroke="#000" stroke-width="3.9"/>
<line x1="1741" y1="1252.1" x2="1741" y2="1262.1" stroke="#000" stroke-width="3.9"/>
<line x1="1799.1" y1="1252.1" x2="1799.1" y2="1262.1" stroke="#000" stroke-width="3.9"/>
<rect x="1487.8" y="1231.1" width="41.5" height="7.8" fill="#000000"/>
<rect x="1546.2" y="1225.5" width="41.5" height="9" fill="#fff" stroke="#ad396b" stroke-width="4.2"/>
<rect x="1546.2" y="1226.1" width="41.5" height="7.8" fill="#ad396b"/>
<rect x="1604.2" y="1228.5" width="41.5" height="4" fill="#fff" stroke="#3d6990" stroke-width="4.2"/>
<rect x="1604.2" y="1226.6" width="41.5" height="7.8" fill="#3d6990"/>
<rect x="1662.2" y="1229.6" width="41.5" height="7.8" fill="#4a9242"/>
<rect x="1720.2" y="1228.9" width="41.5" height="7.8" fill="#fcd52a"/>
<rect x="1778.3" y="1227.8" width="41.5" height="7.8" fill="#82461e"/>
<circle cx="1498.7" cy="1235" r="8.0" fill="#000000"/>
<circle cx="1506.7" cy="1235" r="8.0" fill="#000000"/>
<circle cx="1516.9" cy="1235" r="8.0" fill="#000000"/>
<circle cx="1565.8" cy="1219.9" r="8.0" fill="#ad396b"/>
<circle cx="1556" cy="1225" r="8.0" fill="#ad396b"/>
<circle cx="1576" cy="1224" r="8.0" fill="#ad396b"/>
<circle cx="1552" cy="1232" r="8.0" fill="#ad396b"/>
<circle cx="1580" cy="1232" r="8.0" fill="#ad396b"/>
<circle cx="1563" cy="1235.5" r="8.0" fill="#ad396b"/>
<circle cx="1573" cy="1235" r="8.0" fill="#ad396b"/>
<circle cx="1560" cy="1229" r="8.0" fill="#ad396b"/>
<circle cx="1570" cy="1228" r="8.0" fill="#ad396b"/>
<circle cx="1617" cy="1229" r="8.0" fill="#3d6990"/>
<circle cx="1632" cy="1229" r="8.0" fill="#3d6990"/>
<circle cx="1618" cy="1233.5" r="8.0" fill="#3d6990"/>
<circle cx="1630" cy="1233.5" r="8.0" fill="#3d6990"/>
<circle cx="1611" cy="1231" r="8.0" fill="#3d6990"/>
<circle cx="1671.7" cy="1234.5" r="8.0" fill="#4a9242"/>
<circle cx="1682" cy="1229.5" r="8.0" fill="#4a9242"/>
<circle cx="1676" cy="1235" r="8.0" fill="#4a9242"/>
<circle cx="1747.9" cy="1224.8" r="8.0" fill="#fcd52a"/>
<circle cx="1731" cy="1234" r="8.0" fill="#fcd52a"/>
<circle cx="1740" cy="1231.7" r="8.0" fill="#fcd52a"/>
<circle cx="1745" cy="1235" r="8.0" fill="#fcd52a"/>
<circle cx="1752" cy="1230" r="8.0" fill="#fcd52a"/>
<circle cx="1790" cy="1227.1" r="8.0" fill="#82461e"/>
<circle cx="1801.4" cy="1229.4" r="8.0" fill="#82461e"/>
<circle cx="1792.3" cy="1236.2" r="8.0" fill="#82461e"/>
<circle cx="1786" cy="1232" r="8.0" fill="#82461e"/>
<path d="M1508.2 1058.3V1054.4H1797.2V1058.3" fill="none" stroke="#000" stroke-width="3.0" stroke-linecap="round" stroke-linejoin="round"/>
<text transform="translate(1656.5 1059) scale(1 0.95)" font-size="29" letter-spacing="1.42" fill="#000" stroke="#000" stroke-width="0.45" text-anchor="middle">*</text>
<path d="M1508.2 1081.9V1078H1738.5V1081.9" fill="none" stroke="#000" stroke-width="3.0" stroke-linecap="round" stroke-linejoin="round"/>
<text transform="translate(1623.7 1082.6) scale(1 0.95)" font-size="29" letter-spacing="1.42" fill="#000" stroke="#000" stroke-width="0.45" text-anchor="middle">**</text>
<path d="M1508.2 1105.7V1101.8H1677.1V1105.7" fill="none" stroke="#000" stroke-width="3.0" stroke-linecap="round" stroke-linejoin="round"/>
<text transform="translate(1592.6 1106.2) scale(1 0.95)" font-size="29" letter-spacing="1.42" fill="#000" stroke="#000" stroke-width="0.45" text-anchor="middle">*</text>
<path d="M1620.5 1131.9V1128H1677.1V1131.9" fill="none" stroke="#000" stroke-width="3.0" stroke-linecap="round" stroke-linejoin="round"/>
<text transform="translate(1648.9 1132.2) scale(1 0.95)" font-size="29" letter-spacing="1.42" fill="#000" stroke="#000" stroke-width="0.45" text-anchor="middle">*</text>
<path d="M1508.2 1148.9V1145H1621.3V1148.9" fill="none" stroke="#000" stroke-width="3.0" stroke-linecap="round" stroke-linejoin="round"/>
<text transform="translate(1563.9 1148.5) scale(1 0.95)" font-size="29" letter-spacing="1.42" fill="#000" stroke="#000" stroke-width="0.45" text-anchor="middle">**</text>
<path d="M1564.3 1177.4V1173.5H1677.1V1177.4" fill="none" stroke="#000" stroke-width="3.0" stroke-linecap="round" stroke-linejoin="round"/>
<text transform="translate(1624.3 1178.5) scale(1 0.95)" font-size="29" letter-spacing="1.42" fill="#000" stroke="#000" stroke-width="0.45" text-anchor="middle">*</text>
<path d="M1508.2 1193.9V1190H1564.3V1193.9" fill="none" stroke="#000" stroke-width="3.0" stroke-linecap="round" stroke-linejoin="round"/>
<text transform="translate(1535.8 1194.4) scale(1 0.95)" font-size="29" letter-spacing="1.42" fill="#000" stroke="#000" stroke-width="0.45" text-anchor="middle">**</text>
</g>
<g id="R3A">
<rect x="1086.8" y="1345.2" width="361.9" height="73.2" fill="#edeef0" stroke="#000" stroke-width="3.9" stroke-linejoin="round"/>
<text x="1211" y="1389.8" font-size="26.8" fill="#1a1a1a">P-S262</text>
<line x1="1088" y1="1838.5" x2="1451.5" y2="1838.5" stroke="#000" stroke-width="3.9"/>
<line x1="1125.1" y1="1838.5" x2="1125.1" y2="1848.5" stroke="#000" stroke-width="3.9"/>
<line x1="1183" y1="1838.5" x2="1183" y2="1848.5" stroke="#000" stroke-width="3.9"/>
<line x1="1241.5" y1="1838.5" x2="1241.5" y2="1848.5" stroke="#000" stroke-width="3.9"/>
<line x1="1299.8" y1="1838.5" x2="1299.8" y2="1848.5" stroke="#000" stroke-width="3.9"/>
<line x1="1358" y1="1838.5" x2="1358" y2="1848.5" stroke="#000" stroke-width="3.9"/>
<line x1="1416.2" y1="1838.5" x2="1416.2" y2="1848.5" stroke="#000" stroke-width="3.9"/>
<line x1="1090.2" y1="1546.5" x2="1090.2" y2="1840.5" stroke="#000" stroke-width="4.4"/>
<line x1="1080.2" y1="1594.9" x2="1090.2" y2="1594.9" stroke="#000" stroke-width="4.4"/>
<text x="1061.3" y="1605.2" font-size="27.8" fill="#000" text-anchor="end">6e+05</text>
<line x1="1080.2" y1="1671.5" x2="1090.2" y2="1671.5" stroke="#000" stroke-width="4.4"/>
<text x="1061.3" y="1681.8" font-size="27.8" fill="#000" text-anchor="end">4e+05</text>
<line x1="1080.2" y1="1748.5" x2="1090.2" y2="1748.5" stroke="#000" stroke-width="4.4"/>
<text x="1061.3" y="1758.4" font-size="27.8" fill="#000" text-anchor="end">2e+05</text>
<line x1="1080.2" y1="1824.9" x2="1090.2" y2="1824.9" stroke="#000" stroke-width="4.4"/>
<text x="1061.2" y="1834.9" font-size="27.8" fill="#000" text-anchor="end">0e+00</text>
<rect x="1104.3" y="1821.2" width="41.5" height="7.8" fill="#000000"/>
<rect x="1162.2" y="1821.2" width="41.5" height="7.8" fill="#ad396b"/>
<rect x="1220.8" y="1636.4" width="41.5" height="39.3" fill="#fff" stroke="#3d6990" stroke-width="4.2"/>
<rect x="1220.8" y="1656.7" width="41.5" height="7.8" fill="#3d6990"/>
<line x1="1299.8" y1="1670.7" x2="1299.8" y2="1684.2" stroke="#4a9242" stroke-width="4.2"/>
<line x1="1299.8" y1="1756" x2="1299.8" y2="1824.9" stroke="#4a9242" stroke-width="4.2"/>
<rect x="1279" y="1684.2" width="41.5" height="71.8" fill="#fff" stroke="#4a9242" stroke-width="4.2"/>
<rect x="1279" y="1708" width="41.5" height="7.8" fill="#4a9242"/>
<line x1="1358" y1="1735.2" x2="1358" y2="1759.8" stroke="#fcd52a" stroke-width="4.2"/>
<rect x="1337.2" y="1666.3" width="41.5" height="68.9" fill="#fff" stroke="#fcd52a" stroke-width="4.2"/>
<rect x="1337.2" y="1695.4" width="41.5" height="7.8" fill="#fcd52a"/>
<line x1="1416.2" y1="1674.2" x2="1416.2" y2="1741.8" stroke="#82461e" stroke-width="4.2"/>
<rect x="1395.5" y="1741.8" width="41.5" height="83.1" fill="#fff" stroke="#82461e" stroke-width="4.2"/>
<rect x="1395.5" y="1821" width="41.5" height="7.8" fill="#82461e"/>
<circle cx="1117.5" cy="1825.1" r="8.0" fill="#000000"/>
<circle cx="1120" cy="1825.1" r="8.0" fill="#000000"/>
<circle cx="1122" cy="1825.1" r="8.0" fill="#000000"/>
<circle cx="1184.3" cy="1761.4" r="8.0" fill="#ad396b"/>
<circle cx="1194" cy="1763.6" r="8.0" fill="#ad396b"/>
<circle cx="1186.8" cy="1791.3" r="8.0" fill="#ad396b"/>
<circle cx="1175.5" cy="1825.1" r="8.0" fill="#ad396b"/>
<circle cx="1180" cy="1825.1" r="8.0" fill="#ad396b"/>
<circle cx="1184" cy="1825.1" r="8.0" fill="#ad396b"/>
<circle cx="1188" cy="1825.1" r="8.0" fill="#ad396b"/>
<circle cx="1192.5" cy="1825.1" r="8.0" fill="#ad396b"/>
<circle cx="1231.2" cy="1635.4" r="8.0" fill="#3d6990"/>
<circle cx="1247.8" cy="1636.4" r="8.0" fill="#3d6990"/>
<circle cx="1254.1" cy="1660.6" r="8.0" fill="#3d6990"/>
<circle cx="1245.3" cy="1676.4" r="8.0" fill="#3d6990"/>
<circle cx="1237.5" cy="1754.1" r="8.0" fill="#3d6990"/>
<circle cx="1301.3" cy="1670.1" r="8.0" fill="#4a9242"/>
<circle cx="1307.6" cy="1689.9" r="8.0" fill="#4a9242"/>
<circle cx="1303.6" cy="1734" r="8.0" fill="#4a9242"/>
<circle cx="1306.7" cy="1824.9" r="8.0" fill="#4a9242"/>
<circle cx="1365.6" cy="1559.9" r="8.0" fill="#fcd52a"/>
<circle cx="1347.6" cy="1663.8" r="8.0" fill="#fcd52a"/>
<circle cx="1367.4" cy="1677.3" r="8.0" fill="#fcd52a"/>
<circle cx="1355.5" cy="1722" r="8.0" fill="#fcd52a"/>
<circle cx="1365.6" cy="1739.3" r="8.0" fill="#fcd52a"/>
<circle cx="1349.2" cy="1759.8" r="8.0" fill="#fcd52a"/>
<circle cx="1414.7" cy="1674.2" r="8.0" fill="#82461e"/>
<circle cx="1413.1" cy="1743.1" r="8.0" fill="#82461e"/>
<circle cx="1415.3" cy="1824.9" r="8.0" fill="#82461e"/>
<circle cx="1421.6" cy="1824.9" r="8.0" fill="#82461e"/>
</g>
<g id="R3B">
<rect x="1470.8" y="1345.2" width="362.9" height="72.8" fill="#edeef0" stroke="#000" stroke-width="3.9" stroke-linejoin="round"/>
<text x="1538" y="1390.4" font-size="26.8" fill="#1a1a1a">P-S262 + Ub-K267</text>
<line x1="1472.5" y1="1838.5" x2="1834.4" y2="1838.5" stroke="#000" stroke-width="3.9"/>
<line x1="1507.3" y1="1838.5" x2="1507.3" y2="1848.5" stroke="#000" stroke-width="3.9"/>
<line x1="1565.4" y1="1838.5" x2="1565.4" y2="1848.5" stroke="#000" stroke-width="3.9"/>
<line x1="1623.9" y1="1838.5" x2="1623.9" y2="1848.5" stroke="#000" stroke-width="3.9"/>
<line x1="1682.3" y1="1838.5" x2="1682.3" y2="1848.5" stroke="#000" stroke-width="3.9"/>
<line x1="1740.6" y1="1838.5" x2="1740.6" y2="1848.5" stroke="#000" stroke-width="3.9"/>
<line x1="1799.1" y1="1838.5" x2="1799.1" y2="1848.5" stroke="#000" stroke-width="3.9"/>
<rect x="1486.5" y="1821.4" width="41.5" height="7.8" fill="#000000"/>
<line x1="1565.4" y1="1774" x2="1565.4" y2="1779.5" stroke="#ad396b" stroke-width="4.2"/>
<rect x="1544.7" y="1779.5" width="41.5" height="34.3" fill="#fff" stroke="#ad396b" stroke-width="4.2"/>
<rect x="1544.7" y="1793.6" width="41.5" height="7.8" fill="#ad396b"/>
<rect x="1603.2" y="1821.4" width="41.5" height="7.8" fill="#3d6990"/>
<rect x="1661.5" y="1821.4" width="41.5" height="7.8" fill="#4a9242"/>
<rect x="1719.8" y="1821.4" width="41.5" height="7.8" fill="#fcd52a"/>
<rect x="1778.3" y="1821.4" width="41.5" height="7.8" fill="#82461e"/>
<circle cx="1497.6" cy="1825.3" r="8.0" fill="#000000"/>
<circle cx="1505.5" cy="1825.3" r="8.0" fill="#000000"/>
<circle cx="1514.6" cy="1825.3" r="8.0" fill="#000000"/>
<circle cx="1555" cy="1772" r="8.0" fill="#ad396b"/>
<circle cx="1570" cy="1763" r="8.0" fill="#ad396b"/>
<circle cx="1573.6" cy="1769" r="8.0" fill="#ad396b"/>
<circle cx="1563.3" cy="1787.4" r="8.0" fill="#ad396b"/>
<circle cx="1576" cy="1786.2" r="8.0" fill="#ad396b"/>
<circle cx="1558" cy="1797" r="8.0" fill="#ad396b"/>
<circle cx="1574" cy="1800" r="8.0" fill="#ad396b"/>
<circle cx="1553.5" cy="1812" r="8.0" fill="#ad396b"/>
<circle cx="1566.5" cy="1820.5" r="8.0" fill="#ad396b"/>
<circle cx="1576.5" cy="1825" r="8.0" fill="#ad396b"/>
<circle cx="1614.8" cy="1825.3" r="8.0" fill="#3d6990"/>
<circle cx="1626.1" cy="1825.3" r="8.0" fill="#3d6990"/>
<circle cx="1635.2" cy="1825.3" r="8.0" fill="#3d6990"/>
<circle cx="1675.1" cy="1818.5" r="8.0" fill="#4a9242"/>
<circle cx="1677.3" cy="1825.3" r="8.0" fill="#4a9242"/>
<circle cx="1685.3" cy="1825.3" r="8.0" fill="#4a9242"/>
<circle cx="1733.1" cy="1825.3" r="8.0" fill="#fcd52a"/>
<circle cx="1739.9" cy="1824" r="8.0" fill="#fcd52a"/>
<circle cx="1746.8" cy="1825.3" r="8.0" fill="#fcd52a"/>
<circle cx="1787.7" cy="1825.3" r="8.0" fill="#82461e"/>
<circle cx="1801.4" cy="1825.3" r="8.0" fill="#82461e"/>
<path d="M1507.8 1635.4V1631.5H1745.2V1635.4" fill="none" stroke="#000" stroke-width="3.0" stroke-linecap="round" stroke-linejoin="round"/>
<text transform="translate(1634.5 1635.7) scale(1 0.95)" font-size="29" letter-spacing="1.42" fill="#000" stroke="#000" stroke-width="0.45" text-anchor="middle">**</text>
<path d="M1507.8 1652.3V1648.4H1685.9V1652.3" fill="none" stroke="#000" stroke-width="3.0" stroke-linecap="round" stroke-linejoin="round"/>
<text transform="translate(1595.6 1652.1) scale(1 0.95)" font-size="29" letter-spacing="1.42" fill="#000" stroke="#000" stroke-width="0.45" text-anchor="middle">*</text>
<path d="M1507.8 1672.6V1668.7H1627V1672.6" fill="none" stroke="#000" stroke-width="3.0" stroke-linecap="round" stroke-linejoin="round"/>
<text transform="translate(1570.3 1669.2) scale(1 0.95)" font-size="29" letter-spacing="1.42" fill="#000" stroke="#000" stroke-width="0.45" text-anchor="middle">**</text>
<path d="M1566.9 1701.5V1697.6H1745.2V1701.5" fill="none" stroke="#000" stroke-width="3.0" stroke-linecap="round" stroke-linejoin="round"/>
<text transform="translate(1651.1 1696) scale(1 0.95)" font-size="29" letter-spacing="1.42" fill="#000" stroke="#000" stroke-width="0.45" text-anchor="middle">***</text>
<path d="M1566.9 1717.1V1713.2H1685.9V1717.1" fill="none" stroke="#000" stroke-width="3.0" stroke-linecap="round" stroke-linejoin="round"/>
<text transform="translate(1620.7 1717) scale(1 0.95)" font-size="29" letter-spacing="1.42" fill="#000" stroke="#000" stroke-width="0.45" text-anchor="middle">*</text>
<path d="M1566.9 1737.3V1733.4H1627V1737.3" fill="none" stroke="#000" stroke-width="3.0" stroke-linecap="round" stroke-linejoin="round"/>
<text transform="translate(1598.7 1737.7) scale(1 0.95)" font-size="29" letter-spacing="1.42" fill="#000" stroke="#000" stroke-width="0.45" text-anchor="middle">***</text>
</g>
<g id="R4A">
<rect x="1086.8" y="1942.4" width="361.9" height="72.9" fill="#edeef0" stroke="#000" stroke-width="3.9" stroke-linejoin="round"/>
<text x="1211" y="1987.3" font-size="26.8" fill="#1a1a1a">P-S396</text>
<line x1="1085.9" y1="2457.9" x2="1448.3" y2="2457.9" stroke="#000" stroke-width="3.9"/>
<line x1="1122.6" y1="2457.9" x2="1122.6" y2="2467.9" stroke="#000" stroke-width="3.9"/>
<line x1="1180.8" y1="2457.9" x2="1180.8" y2="2467.9" stroke="#000" stroke-width="3.9"/>
<line x1="1239.7" y1="2457.9" x2="1239.7" y2="2467.9" stroke="#000" stroke-width="3.9"/>
<line x1="1297.9" y1="2457.9" x2="1297.9" y2="2467.9" stroke="#000" stroke-width="3.9"/>
<line x1="1356.1" y1="2457.9" x2="1356.1" y2="2467.9" stroke="#000" stroke-width="3.9"/>
<line x1="1414.3" y1="2457.9" x2="1414.3" y2="2467.9" stroke="#000" stroke-width="3.9"/>
<line x1="1088.1" y1="2155.2" x2="1088.1" y2="2459.8" stroke="#000" stroke-width="4.4"/>
<line x1="1078.1" y1="2207.1" x2="1088.1" y2="2207.1" stroke="#000" stroke-width="4.4"/>
<text x="1060.2" y="2218.1" font-size="27.8" fill="#000" text-anchor="end">3e+06</text>
<line x1="1078.1" y1="2286.3" x2="1088.1" y2="2286.3" stroke="#000" stroke-width="4.4"/>
<text x="1060.2" y="2296.6" font-size="27.8" fill="#000" text-anchor="end">2e+06</text>
<line x1="1078.1" y1="2365.5" x2="1088.1" y2="2365.5" stroke="#000" stroke-width="4.4"/>
<text x="1060.2" y="2375.8" font-size="27.8" fill="#000" text-anchor="end">1e+06</text>
<line x1="1078.1" y1="2444" x2="1088.1" y2="2444" stroke="#000" stroke-width="4.4"/>
<text x="1060.1" y="2455" font-size="27.8" fill="#000" text-anchor="end">0e+00</text>
<rect x="1101.8" y="2438.5" width="41.5" height="6.5" fill="#fff" stroke="#000000" stroke-width="4.2"/>
<rect x="1101.8" y="2437.8" width="41.5" height="7.8" fill="#000000"/>
<line x1="1180.8" y1="2366.6" x2="1180.8" y2="2401.3" stroke="#ad396b" stroke-width="4.2"/>
<line x1="1180.8" y1="2433.4" x2="1180.8" y2="2443.7" stroke="#ad396b" stroke-width="4.2"/>
<rect x="1160" y="2401.3" width="41.5" height="32.1" fill="#fff" stroke="#ad396b" stroke-width="4.2"/>
<rect x="1160" y="2413.1" width="41.5" height="7.8" fill="#ad396b"/>
<rect x="1219" y="2430.5" width="41.5" height="5" fill="#fff" stroke="#3d6990" stroke-width="4.2"/>
<rect x="1219" y="2429.1" width="41.5" height="7.8" fill="#3d6990"/>
<rect x="1277.2" y="2431" width="41.5" height="3.4" fill="#fff" stroke="#4a9242" stroke-width="4.2"/>
<rect x="1277.2" y="2428.8" width="41.5" height="7.8" fill="#4a9242"/>
<rect x="1335.3" y="2418.2" width="41.5" height="10.1" fill="#fff" stroke="#fcd52a" stroke-width="4.2"/>
<rect x="1335.3" y="2416.4" width="41.5" height="7.8" fill="#fcd52a"/>
<rect x="1393.5" y="2411.4" width="41.5" height="16.6" fill="#fff" stroke="#82461e" stroke-width="4.2"/>
<rect x="1393.5" y="2409.9" width="41.5" height="7.8" fill="#82461e"/>
<circle cx="1115.1" cy="2431.6" r="8.0" fill="#000000"/>
<circle cx="1120.4" cy="2441.1" r="8.0" fill="#000000"/>
<circle cx="1113" cy="2443" r="8.0" fill="#000000"/>
<circle cx="1109" cy="2440" r="8.0" fill="#000000"/>
<circle cx="1184.9" cy="2366.6" r="8.0" fill="#ad396b"/>
<circle cx="1190.9" cy="2377.6" r="8.0" fill="#ad396b"/>
<circle cx="1191.8" cy="2391.8" r="8.0" fill="#ad396b"/>
<circle cx="1180.8" cy="2406" r="8.0" fill="#ad396b"/>
<circle cx="1172.9" cy="2407.5" r="8.0" fill="#ad396b"/>
<circle cx="1191.8" cy="2434.3" r="8.0" fill="#ad396b"/>
<circle cx="1179.2" cy="2443.7" r="8.0" fill="#ad396b"/>
<circle cx="1182" cy="2420" r="8.0" fill="#ad396b"/>
<circle cx="1176" cy="2430" r="8.0" fill="#ad396b"/>
<circle cx="1227.4" cy="2431.6" r="8.0" fill="#3d6990"/>
<circle cx="1245.4" cy="2426.3" r="8.0" fill="#3d6990"/>
<circle cx="1235.9" cy="2439" r="8.0" fill="#3d6990"/>
<circle cx="1251.8" cy="2429.4" r="8.0" fill="#3d6990"/>
<circle cx="1299.4" cy="2425.2" r="8.0" fill="#4a9242"/>
<circle cx="1300.5" cy="2439" r="8.0" fill="#4a9242"/>
<circle cx="1363" cy="2395.6" r="8.0" fill="#fcd52a"/>
<circle cx="1345" cy="2415.7" r="8.0" fill="#fcd52a"/>
<circle cx="1353.5" cy="2415.7" r="8.0" fill="#fcd52a"/>
<circle cx="1365.1" cy="2434.7" r="8.0" fill="#fcd52a"/>
<circle cx="1357" cy="2424" r="8.0" fill="#fcd52a"/>
<circle cx="1420.2" cy="2404" r="8.0" fill="#82461e"/>
<circle cx="1410.7" cy="2410.4" r="8.0" fill="#82461e"/>
<circle cx="1417" cy="2426.3" r="8.0" fill="#82461e"/>
<circle cx="1413.8" cy="2436.9" r="8.0" fill="#82461e"/>
</g>
<g id="R4B">
<rect x="1470.8" y="1942.8" width="362.9" height="72.1" fill="#edeef0" stroke="#000" stroke-width="3.9" stroke-linejoin="round"/>
<text x="1543.3" y="1971.5" font-size="26.8" fill="#1a1a1a">P-S396 + P-S400</text>
<text x="1596.2" y="2002.6" font-size="26.8" fill="#1a1a1a">+ P-S404</text>
<line x1="1474.8" y1="2457.2" x2="1826.4" y2="2457.2" stroke="#000" stroke-width="3.9"/>
<line x1="1508.2" y1="2457.2" x2="1508.2" y2="2467.2" stroke="#000" stroke-width="3.9"/>
<line x1="1565.1" y1="2457.2" x2="1565.1" y2="2467.2" stroke="#000" stroke-width="3.9"/>
<line x1="1621.6" y1="2457.2" x2="1621.6" y2="2467.2" stroke="#000" stroke-width="3.9"/>
<line x1="1678.5" y1="2457.2" x2="1678.5" y2="2467.2" stroke="#000" stroke-width="3.9"/>
<line x1="1735.4" y1="2457.2" x2="1735.4" y2="2467.2" stroke="#000" stroke-width="3.9"/>
<line x1="1792.3" y1="2457.2" x2="1792.3" y2="2467.2" stroke="#000" stroke-width="3.9"/>
<rect x="1487.5" y="2439.7" width="41.5" height="7.8" fill="#000000"/>
<line x1="1565.1" y1="2166.4" x2="1565.1" y2="2287.7" stroke="#ad396b" stroke-width="4.2"/>
<line x1="1565.1" y1="2417.4" x2="1565.1" y2="2443.6" stroke="#ad396b" stroke-width="4.2"/>
<rect x="1544.3" y="2287.7" width="41.5" height="129.7" fill="#fff" stroke="#ad396b" stroke-width="4.2"/>
<rect x="1544.3" y="2360" width="41.5" height="7.8" fill="#ad396b"/>
<line x1="1621.6" y1="2388" x2="1621.6" y2="2394.2" stroke="#3d6990" stroke-width="4.2"/>
<rect x="1600.8" y="2394.2" width="41.5" height="16.4" fill="#fff" stroke="#3d6990" stroke-width="4.2"/>
<rect x="1600.8" y="2393.6" width="41.5" height="7.8" fill="#3d6990"/>
<rect x="1657.8" y="2418.3" width="41.5" height="12" fill="#fff" stroke="#4a9242" stroke-width="4.2"/>
<rect x="1657.8" y="2420.4" width="41.5" height="7.8" fill="#4a9242"/>
<line x1="1735.4" y1="2392.4" x2="1735.4" y2="2414.2" stroke="#fcd52a" stroke-width="4.2"/>
<rect x="1714.7" y="2414.2" width="41.5" height="20.7" fill="#fff" stroke="#fcd52a" stroke-width="4.2"/>
<rect x="1714.7" y="2419.9" width="41.5" height="7.8" fill="#fcd52a"/>
<line x1="1792.3" y1="2399.2" x2="1792.3" y2="2415.8" stroke="#82461e" stroke-width="4.2"/>
<rect x="1771.5" y="2415.8" width="41.5" height="27.8" fill="#fff" stroke="#82461e" stroke-width="4.2"/>
<rect x="1771.5" y="2437.4" width="41.5" height="7.8" fill="#82461e"/>
<circle cx="1499.8" cy="2443.6" r="8.0" fill="#000000"/>
<circle cx="1507.8" cy="2443.6" r="8.0" fill="#000000"/>
<circle cx="1516.9" cy="2443.6" r="8.0" fill="#000000"/>
<circle cx="1570.4" cy="2166.4" r="8.0" fill="#ad396b"/>
<circle cx="1563.5" cy="2270.6" r="8.0" fill="#ad396b"/>
<circle cx="1577.2" cy="2268.3" r="8.0" fill="#ad396b"/>
<circle cx="1569.2" cy="2277.4" r="8.0" fill="#ad396b"/>
<circle cx="1567.6" cy="2300.2" r="8.0" fill="#ad396b"/>
<circle cx="1555.1" cy="2350.3" r="8.0" fill="#ad396b"/>
<circle cx="1557.4" cy="2363.9" r="8.0" fill="#ad396b"/>
<circle cx="1572.7" cy="2361.7" r="8.0" fill="#ad396b"/>
<circle cx="1574.9" cy="2369.6" r="8.0" fill="#ad396b"/>
<circle cx="1564.7" cy="2403.8" r="8.0" fill="#ad396b"/>
<circle cx="1573.8" cy="2414" r="8.0" fill="#ad396b"/>
<circle cx="1567" cy="2419.7" r="8.0" fill="#ad396b"/>
<circle cx="1555.1" cy="2443.6" r="8.0" fill="#ad396b"/>
<circle cx="1574.9" cy="2443.6" r="8.0" fill="#ad396b"/>
<circle cx="1631.1" cy="2384.4" r="8.0" fill="#3d6990"/>
<circle cx="1615.5" cy="2395.5" r="8.0" fill="#3d6990"/>
<circle cx="1628" cy="2393" r="8.0" fill="#3d6990"/>
<circle cx="1621" cy="2404" r="8.0" fill="#3d6990"/>
<circle cx="1616.1" cy="2416.8" r="8.0" fill="#3d6990"/>
<circle cx="1677.3" cy="2413.2" r="8.0" fill="#4a9242"/>
<circle cx="1669.1" cy="2431.7" r="8.0" fill="#4a9242"/>
<circle cx="1678.4" cy="2430.7" r="8.0" fill="#4a9242"/>
<circle cx="1742.7" cy="2392.6" r="8.0" fill="#fcd52a"/>
<circle cx="1730.3" cy="2411.2" r="8.0" fill="#fcd52a"/>
<circle cx="1731.9" cy="2421.5" r="8.0" fill="#fcd52a"/>
<circle cx="1726.7" cy="2438.9" r="8.0" fill="#fcd52a"/>
<circle cx="1741.1" cy="2440" r="8.0" fill="#fcd52a"/>
<circle cx="1794.5" cy="2399.2" r="8.0" fill="#82461e"/>
<circle cx="1782.7" cy="2415.1" r="8.0" fill="#82461e"/>
<circle cx="1780.9" cy="2434.5" r="8.0" fill="#82461e"/>
<circle cx="1787.7" cy="2443.6" r="8.0" fill="#82461e"/>
<circle cx="1794.5" cy="2443.6" r="8.0" fill="#82461e"/>
<path d="M1507.2 2051.8V2047.9H1735.6V2051.8" fill="none" stroke="#000" stroke-width="3.0" stroke-linecap="round" stroke-linejoin="round"/>
<text transform="translate(1615.1 2050.9) scale(1 0.95)" font-size="29" letter-spacing="1.42" fill="#000" stroke="#000" stroke-width="0.45" text-anchor="middle">**</text>
<path d="M1507.2 2076.4V2072.5H1678.5V2076.4" fill="none" stroke="#000" stroke-width="3.0" stroke-linecap="round" stroke-linejoin="round"/>
<text transform="translate(1589.7 2075.1) scale(1 0.95)" font-size="29" letter-spacing="1.42" fill="#000" stroke="#000" stroke-width="0.45" text-anchor="middle">*</text>
<path d="M1621.3 2093.6V2089.7H1792.4V2093.6" fill="none" stroke="#000" stroke-width="3.0" stroke-linecap="round" stroke-linejoin="round"/>
<text transform="translate(1705.3 2089.2) scale(1 0.95)" font-size="29" letter-spacing="1.42" fill="#000" stroke="#000" stroke-width="0.45" text-anchor="middle">*</text>
<path d="M1621.3 2111.5V2107.6H1678.5V2111.5" fill="none" stroke="#000" stroke-width="3.0" stroke-linecap="round" stroke-linejoin="round"/>
<text transform="translate(1657.1 2110.7) scale(1 0.95)" font-size="29" letter-spacing="1.42" fill="#000" stroke="#000" stroke-width="0.45" text-anchor="middle">*</text>
<path d="M1507.2 2128.4V2124.5H1621.3V2128.4" fill="none" stroke="#000" stroke-width="3.0" stroke-linecap="round" stroke-linejoin="round"/>
<text transform="translate(1572.4 2119.4) scale(1 0.95)" font-size="29" letter-spacing="1.42" fill="#000" stroke="#000" stroke-width="0.45" text-anchor="middle">**</text>
<path d="M1507.2 2151.8V2147.9H1565V2151.8" fill="none" stroke="#000" stroke-width="3.0" stroke-linecap="round" stroke-linejoin="round"/>
<text transform="translate(1534.2 2149.2) scale(1 0.95)" font-size="29" letter-spacing="1.42" fill="#000" stroke="#000" stroke-width="0.45" text-anchor="middle">**</text>
</g>
<text transform="translate(25 545) rotate(-90)" x="0" y="0" font-size="25.9" fill="#000" text-anchor="middle">Abundance</text>
<text transform="translate(25 1112.4) rotate(-90)" x="0" y="0" font-size="25.9" fill="#000" text-anchor="middle">Abundance</text>
<text transform="translate(25 1690) rotate(-90)" x="0" y="0" font-size="25.9" fill="#000" text-anchor="middle">Abundance</text>
<text transform="translate(25 2304.7) rotate(-90)" x="0" y="0" font-size="25.9" fill="#000" text-anchor="middle">Abundance</text>
<text transform="translate(965.9 539.8) rotate(-90)" x="0" y="0" font-size="26.1" fill="#000" text-anchor="middle">Abundance</text>
<text transform="translate(965.9 1116.7) rotate(-90)" x="0" y="0" font-size="26.1" fill="#000" text-anchor="middle">Abundance</text>
<text transform="translate(965.9 1702) rotate(-90)" x="0" y="0" font-size="26.1" fill="#000" text-anchor="middle">Abundance</text>
<text transform="translate(965.9 2310.8) rotate(-90)" x="0" y="0" font-size="26.1" fill="#000" text-anchor="middle">Abundance</text>
<text x="480.7" y="740" font-size="26.6" fill="#000" text-anchor="middle">Conditions</text>
<text x="479.5" y="1288.4" font-size="26.6" fill="#000" text-anchor="middle">Conditions</text>
<text x="469.8" y="1878.7" font-size="26.6" fill="#000" text-anchor="middle">Conditions</text>
<text x="481" y="2492" font-size="26.6" fill="#000" text-anchor="middle">Conditions</text>
<text x="1446.6" y="739.2" font-size="26.6" fill="#000" text-anchor="middle">Conditions</text>
<text x="1445.6" y="1288.8" font-size="26.6" fill="#000" text-anchor="middle">Conditions</text>
<text x="1444" y="1873.1" font-size="26.6" fill="#000" text-anchor="middle">Conditions</text>
<text x="1441.8" y="2491.9" font-size="26.6" fill="#000" text-anchor="middle">Conditions</text>
</svg>
</body></html>
